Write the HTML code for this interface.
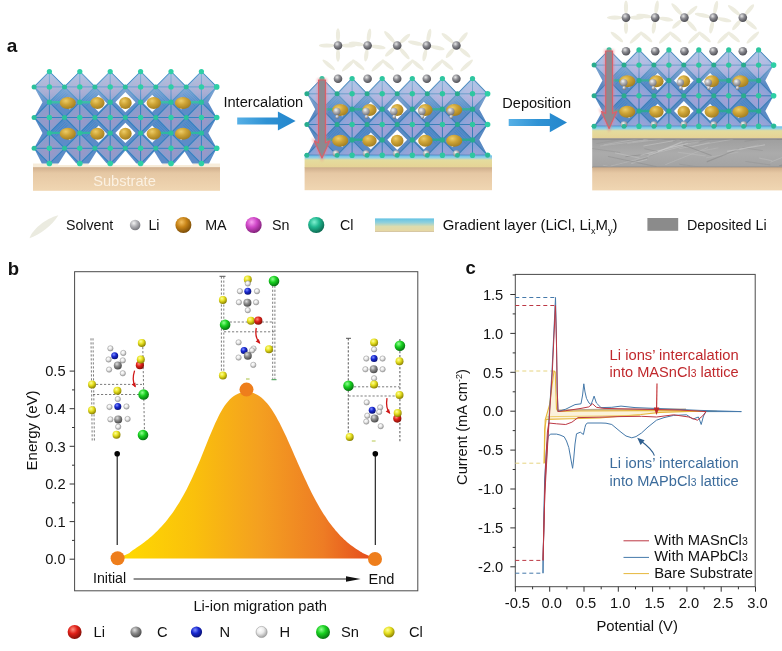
<!DOCTYPE html>
<html><head><meta charset="utf-8"><title>Figure</title>
<style>html,body{margin:0;padding:0;background:#fff}svg{display:block;font-family:"Liberation Sans", Arial, sans-serif}</style></head>
<body><svg width="782" height="651" viewBox="0 0 782 651">
<defs>
<radialGradient id="gY" cx="0.38" cy="0.32" r="0.7"><stop offset="0" stop-color="#ffff9a"/><stop offset="0.45" stop-color="#e6e020"/><stop offset="1" stop-color="#8a8000"/></radialGradient>
<radialGradient id="gG" cx="0.38" cy="0.32" r="0.7"><stop offset="0" stop-color="#90ff90"/><stop offset="0.45" stop-color="#18d020"/><stop offset="1" stop-color="#067010"/></radialGradient>
<radialGradient id="gR" cx="0.38" cy="0.32" r="0.7"><stop offset="0" stop-color="#ff9080"/><stop offset="0.45" stop-color="#e02018"/><stop offset="1" stop-color="#801008"/></radialGradient>
<radialGradient id="gB" cx="0.38" cy="0.32" r="0.7"><stop offset="0" stop-color="#8090ff"/><stop offset="0.45" stop-color="#1828d0"/><stop offset="1" stop-color="#081070"/></radialGradient>
<radialGradient id="gC" cx="0.38" cy="0.32" r="0.7"><stop offset="0" stop-color="#e0e0e0"/><stop offset="0.45" stop-color="#8c8c8c"/><stop offset="1" stop-color="#484848"/></radialGradient>
<radialGradient id="gH" cx="0.38" cy="0.32" r="0.7"><stop offset="0" stop-color="#ffffff"/><stop offset="0.45" stop-color="#ececec"/><stop offset="1" stop-color="#a0a0a0"/></radialGradient>
<radialGradient id="gLi" cx="0.38" cy="0.32" r="0.7"><stop offset="0" stop-color="#e8e8e8"/><stop offset="0.45" stop-color="#8a8a90"/><stop offset="1" stop-color="#4c4c52"/></radialGradient>
<radialGradient id="gLi2" cx="0.38" cy="0.32" r="0.7"><stop offset="0" stop-color="#f4f4f4"/><stop offset="0.45" stop-color="#b4b4b8"/><stop offset="1" stop-color="#74747a"/></radialGradient>
<radialGradient id="gMA" cx="0.38" cy="0.32" r="0.7"><stop offset="0" stop-color="#f4c060"/><stop offset="0.45" stop-color="#c88418"/><stop offset="1" stop-color="#7a4c08"/></radialGradient>
<radialGradient id="gSn" cx="0.38" cy="0.32" r="0.7"><stop offset="0" stop-color="#f8a0f0"/><stop offset="0.45" stop-color="#d048c8"/><stop offset="1" stop-color="#802078"/></radialGradient>
<radialGradient id="gCl" cx="0.38" cy="0.32" r="0.7"><stop offset="0" stop-color="#80f0d0"/><stop offset="0.45" stop-color="#20b890"/><stop offset="1" stop-color="#0c6850"/></radialGradient>
<radialGradient id="gGold" cx="0.38" cy="0.32" r="0.7"><stop offset="0" stop-color="#eccc68"/><stop offset="0.45" stop-color="#cea436"/><stop offset="1" stop-color="#a27e22"/></radialGradient>
<radialGradient id="gTeal" cx="0.38" cy="0.32" r="0.7"><stop offset="0" stop-color="#60e8c0"/><stop offset="0.45" stop-color="#2cc8a0"/><stop offset="1" stop-color="#1a9880"/></radialGradient>
<linearGradient id="octa" x1="0" y1="0" x2="0" y2="1"><stop offset="0" stop-color="#86a8de"/><stop offset="0.55" stop-color="#9c9cd6"/><stop offset="1" stop-color="#7f9bd8"/></linearGradient>
<radialGradient id="octaR" cx="0.5" cy="0.55" r="0.6"><stop offset="0" stop-color="#a096c6"/><stop offset="0.5" stop-color="#8c9ccb"/><stop offset="1" stop-color="#7aa2d6"/></radialGradient>
<radialGradient id="octaR2" cx="0.5" cy="0.6" r="0.6"><stop offset="0" stop-color="#aa9ed4"/><stop offset="0.5" stop-color="#92a4d8"/><stop offset="1" stop-color="#74a0d8"/></radialGradient>
<linearGradient id="subs" x1="0" y1="0" x2="0" y2="1"><stop offset="0" stop-color="#cfae8c"/><stop offset="0.25" stop-color="#e6c8a4"/><stop offset="1" stop-color="#f0d6b2"/></linearGradient>
<linearGradient id="gradlayer" x1="0" y1="0" x2="0" y2="1"><stop offset="0" stop-color="#66bcea"/><stop offset="0.2" stop-color="#98d2e2"/><stop offset="0.36" stop-color="#e4dc9e"/><stop offset="0.9" stop-color="#e6d496"/><stop offset="1" stop-color="#cfb68e"/></linearGradient>
<linearGradient id="gradbar" x1="0" y1="0" x2="0" y2="1"><stop offset="0" stop-color="#62c2e4"/><stop offset="0.3" stop-color="#8fd0dc"/><stop offset="0.6" stop-color="#dcdcae"/><stop offset="0.9" stop-color="#e6d8a4"/><stop offset="1" stop-color="#cbb894"/></linearGradient>
<linearGradient id="lidep" x1="0" y1="0" x2="0" y2="1"><stop offset="0" stop-color="#7e7e7e"/><stop offset="0.07" stop-color="#a0a0a0"/><stop offset="0.5" stop-color="#ababab"/><stop offset="0.93" stop-color="#a4a4a4"/><stop offset="1" stop-color="#7c7c7c"/></linearGradient>
<linearGradient id="barrow" x1="0" y1="0" x2="1" y2="0"><stop offset="0" stop-color="#56b0e6"/><stop offset="0.5" stop-color="#2f92d4"/><stop offset="1" stop-color="#2486cc"/></linearGradient>
<clipPath id="c1"><rect x="30.15" y="67.60000000000001" width="190.5" height="99.00000000000001"/></clipPath>
<linearGradient id="c1lt" gradientUnits="userSpaceOnUse" x1="0" y1="71.6" x2="0" y2="106.8"><stop offset="0" stop-color="#fff" stop-opacity="0.40"/><stop offset="0.6" stop-color="#fff" stop-opacity="0.20"/><stop offset="1" stop-color="#fff" stop-opacity="0"/></linearGradient>
<radialGradient id="petal" cx="0.5" cy="0.5" r="0.6"><stop offset="0" stop-color="#f3f1e2"/><stop offset="1" stop-color="#e6e4d0"/></radialGradient>
<filter id="blur1" x="-50%" y="-10%" width="200%" height="120%"><feGaussianBlur stdDeviation="1.2"/></filter>
<clipPath id="c2"><rect x="302.95" y="74.5" width="188.60000000000002" height="81.69999999999999"/></clipPath>
<linearGradient id="c2lt" gradientUnits="userSpaceOnUse" x1="0" y1="78.5" x2="0" y2="113.7"><stop offset="0" stop-color="#fff" stop-opacity="0.40"/><stop offset="0.6" stop-color="#fff" stop-opacity="0.20"/><stop offset="1" stop-color="#fff" stop-opacity="0"/></linearGradient>
<clipPath id="c3"><rect x="590.15" y="45.89999999999999" width="187.4000000000001" height="81.30000000000001"/></clipPath>
<linearGradient id="c3lt" gradientUnits="userSpaceOnUse" x1="0" y1="49.9" x2="0" y2="84.9"><stop offset="0" stop-color="#fff" stop-opacity="0.40"/><stop offset="0.6" stop-color="#fff" stop-opacity="0.20"/><stop offset="1" stop-color="#fff" stop-opacity="0"/></linearGradient>
<clipPath id="clipLi"><rect x="592.2" y="139.5" width="190" height="27"/></clipPath>
<linearGradient id="peak" gradientUnits="userSpaceOnUse" x1="117" y1="0" x2="375" y2="0"><stop offset="0" stop-color="#ffdc00"/><stop offset="0.3" stop-color="#fac00c"/><stop offset="0.55" stop-color="#f4a020"/><stop offset="0.8" stop-color="#ee7c24"/><stop offset="1" stop-color="#e4481c"/></linearGradient>
</defs>
<rect width="782" height="651" fill="#fff"/>
<rect x="33" y="163.5" width="187" height="5" fill="#f6ead6" opacity="0.9"/>
<g clip-path="url(#c1)">
<polygon points="34.1,86.9 34.1,86.9 49.4,71.6 64.7,86.9 64.5,86.9 79.8,71.6 95.0,86.9 94.9,86.9 110.2,71.6 125.4,86.9 125.3,86.9 140.6,71.6 155.8,86.9 155.8,86.9 171.0,71.6 186.2,86.9 186.2,86.9 201.4,71.6 216.7,86.9 216.7,86.9 208.3,102.2 216.7,117.5 216.7,117.5 208.3,132.9 216.7,148.3 209.0,163.6 41.8,163.6 34.1,148.3 42.5,132.9 34.1,117.5 34.1,117.5 42.5,102.2 34.1,86.9" fill="#5c8cc8"/>
<polygon points="63.5,103.4 69.6,97.3 75.7,103.4 69.6,109.5" fill="#fff" opacity="0.95"/>
<line x1="51.7" y1="102.1" x2="63.9" y2="89.9" stroke="#3585cc" stroke-width="0.7"/>
<line x1="53.0" y1="103.5" x2="65.2" y2="91.2" stroke="#3585cc" stroke-width="0.7"/>
<line x1="54.4" y1="104.8" x2="66.6" y2="92.6" stroke="#3585cc" stroke-width="0.7"/>
<line x1="55.7" y1="106.1" x2="67.9" y2="93.9" stroke="#3585cc" stroke-width="0.7"/>
<polygon points="90.1,103.4 98.6,94.8 107.1,103.4 98.6,112.0" fill="#fff" opacity="0.95"/>
<line x1="82.1" y1="102.1" x2="94.3" y2="89.9" stroke="#3585cc" stroke-width="0.7"/>
<line x1="83.4" y1="103.5" x2="95.6" y2="91.2" stroke="#3585cc" stroke-width="0.7"/>
<line x1="84.8" y1="104.8" x2="97.0" y2="92.6" stroke="#3585cc" stroke-width="0.7"/>
<line x1="86.1" y1="106.1" x2="98.3" y2="93.9" stroke="#3585cc" stroke-width="0.7"/>
<polygon points="115.3,102.2 125.4,92.1 135.5,102.2 125.4,112.3" fill="#fff"/>
<polygon points="143.7,103.4 152.2,94.8 160.7,103.4 152.2,112.0" fill="#fff" opacity="0.95"/>
<line x1="168.7" y1="102.1" x2="156.5" y2="89.9" stroke="#3585cc" stroke-width="0.7"/>
<line x1="167.4" y1="103.5" x2="155.2" y2="91.2" stroke="#3585cc" stroke-width="0.7"/>
<line x1="166.0" y1="104.8" x2="153.8" y2="92.6" stroke="#3585cc" stroke-width="0.7"/>
<line x1="164.7" y1="106.1" x2="152.5" y2="93.9" stroke="#3585cc" stroke-width="0.7"/>
<polygon points="175.1,103.4 181.2,97.3 187.3,103.4 181.2,109.5" fill="#fff" opacity="0.95"/>
<line x1="199.1" y1="102.1" x2="186.9" y2="89.9" stroke="#3585cc" stroke-width="0.7"/>
<line x1="197.8" y1="103.5" x2="185.6" y2="91.2" stroke="#3585cc" stroke-width="0.7"/>
<line x1="196.4" y1="104.8" x2="184.2" y2="92.6" stroke="#3585cc" stroke-width="0.7"/>
<line x1="195.1" y1="106.1" x2="182.9" y2="93.9" stroke="#3585cc" stroke-width="0.7"/>
<polygon points="63.5,134.1 69.6,128.0 75.7,134.1 69.6,140.2" fill="#fff" opacity="0.95"/>
<line x1="51.7" y1="132.8" x2="63.9" y2="120.6" stroke="#3585cc" stroke-width="0.7"/>
<line x1="53.0" y1="134.2" x2="65.2" y2="121.9" stroke="#3585cc" stroke-width="0.7"/>
<line x1="54.4" y1="135.5" x2="66.6" y2="123.3" stroke="#3585cc" stroke-width="0.7"/>
<line x1="55.7" y1="136.8" x2="67.9" y2="124.6" stroke="#3585cc" stroke-width="0.7"/>
<polygon points="90.1,134.1 98.6,125.5 107.1,134.1 98.6,142.7" fill="#fff" opacity="0.95"/>
<line x1="82.1" y1="132.8" x2="94.3" y2="120.6" stroke="#3585cc" stroke-width="0.7"/>
<line x1="83.4" y1="134.2" x2="95.6" y2="121.9" stroke="#3585cc" stroke-width="0.7"/>
<line x1="84.8" y1="135.5" x2="97.0" y2="123.3" stroke="#3585cc" stroke-width="0.7"/>
<line x1="86.1" y1="136.8" x2="98.3" y2="124.6" stroke="#3585cc" stroke-width="0.7"/>
<polygon points="115.3,132.9 125.4,122.8 135.5,132.9 125.4,143.0" fill="#fff"/>
<polygon points="143.7,134.1 152.2,125.5 160.7,134.1 152.2,142.7" fill="#fff" opacity="0.95"/>
<line x1="168.7" y1="132.8" x2="156.5" y2="120.6" stroke="#3585cc" stroke-width="0.7"/>
<line x1="167.4" y1="134.2" x2="155.2" y2="121.9" stroke="#3585cc" stroke-width="0.7"/>
<line x1="166.0" y1="135.5" x2="153.8" y2="123.3" stroke="#3585cc" stroke-width="0.7"/>
<line x1="164.7" y1="136.8" x2="152.5" y2="124.6" stroke="#3585cc" stroke-width="0.7"/>
<polygon points="175.1,134.1 181.2,128.0 187.3,134.1 181.2,140.2" fill="#fff" opacity="0.95"/>
<line x1="199.1" y1="132.8" x2="186.9" y2="120.6" stroke="#3585cc" stroke-width="0.7"/>
<line x1="197.8" y1="134.2" x2="185.6" y2="121.9" stroke="#3585cc" stroke-width="0.7"/>
<line x1="196.4" y1="135.5" x2="184.2" y2="123.3" stroke="#3585cc" stroke-width="0.7"/>
<line x1="195.1" y1="136.8" x2="182.9" y2="124.6" stroke="#3585cc" stroke-width="0.7"/>
<line x1="49.3" y1="102.2" x2="60.8" y2="102.2" stroke="#2bc09c" stroke-width="2.4" stroke-linecap="round" opacity="0.85"/>
<line x1="79.8" y1="102.2" x2="91.2" y2="102.2" stroke="#2bc09c" stroke-width="2.4" stroke-linecap="round" opacity="0.85"/>
<line x1="171.1" y1="102.2" x2="159.6" y2="102.2" stroke="#2bc09c" stroke-width="2.4" stroke-linecap="round" opacity="0.85"/>
<line x1="201.4" y1="102.2" x2="190.0" y2="102.2" stroke="#2bc09c" stroke-width="2.4" stroke-linecap="round" opacity="0.85"/>
<line x1="49.3" y1="132.9" x2="60.8" y2="132.9" stroke="#2bc09c" stroke-width="2.4" stroke-linecap="round" opacity="0.85"/>
<line x1="79.8" y1="132.9" x2="91.2" y2="132.9" stroke="#2bc09c" stroke-width="2.4" stroke-linecap="round" opacity="0.85"/>
<line x1="171.1" y1="132.9" x2="159.6" y2="132.9" stroke="#2bc09c" stroke-width="2.4" stroke-linecap="round" opacity="0.85"/>
<line x1="201.4" y1="132.9" x2="190.0" y2="132.9" stroke="#2bc09c" stroke-width="2.4" stroke-linecap="round" opacity="0.85"/>
<polygon points="66.1,151.4 77.6,165.1 57.7,165.1" fill="#fff"/>
<polygon points="96.5,151.4 108.0,165.1 88.1,165.1" fill="#fff"/>
<polygon points="125.4,150.6 113.2,165.1 137.6,165.1" fill="#fff"/>
<polygon points="154.3,151.4 142.8,165.1 162.7,165.1" fill="#fff"/>
<polygon points="184.7,151.4 173.2,165.1 193.1,165.1" fill="#fff"/>
<polygon points="34.1,86.9 49.4,71.6 64.7,86.9 49.4,102.2" fill="url(#octaR)" stroke="#3381c2" stroke-width="1.1" stroke-linejoin="round"/>
<path d="M34.1,86.9H64.7M49.4,71.6V102.2" stroke="#3381c2" stroke-width="1.0"/>
<polygon points="64.5,86.9 79.8,71.6 95.0,86.9 79.8,102.2" fill="url(#octaR)" stroke="#3381c2" stroke-width="1.1" stroke-linejoin="round"/>
<path d="M64.5,86.9H95.0M79.8,71.6V102.2" stroke="#3381c2" stroke-width="1.0"/>
<polygon points="94.9,86.9 110.2,71.6 125.4,86.9 110.2,102.2" fill="url(#octaR)" stroke="#3381c2" stroke-width="1.1" stroke-linejoin="round"/>
<path d="M94.9,86.9H125.4M110.2,71.6V102.2" stroke="#3381c2" stroke-width="1.0"/>
<polygon points="125.3,86.9 140.6,71.6 155.8,86.9 140.6,102.2" fill="url(#octaR)" stroke="#3381c2" stroke-width="1.1" stroke-linejoin="round"/>
<path d="M125.3,86.9H155.8M140.6,71.6V102.2" stroke="#3381c2" stroke-width="1.0"/>
<polygon points="155.8,86.9 171.0,71.6 186.2,86.9 171.0,102.2" fill="url(#octaR)" stroke="#3381c2" stroke-width="1.1" stroke-linejoin="round"/>
<path d="M155.8,86.9H186.2M171.0,71.6V102.2" stroke="#3381c2" stroke-width="1.0"/>
<polygon points="186.2,86.9 201.4,71.6 216.7,86.9 201.4,102.2" fill="url(#octaR)" stroke="#3381c2" stroke-width="1.1" stroke-linejoin="round"/>
<path d="M186.2,86.9H216.7M201.4,71.6V102.2" stroke="#3381c2" stroke-width="1.0"/>
<polygon points="34.1,117.5 49.4,102.2 64.7,117.5 49.4,132.8" fill="url(#octaR)" stroke="#3381c2" stroke-width="1.1" stroke-linejoin="round"/>
<path d="M34.1,117.5H64.7M49.4,102.2V132.8" stroke="#3381c2" stroke-width="1.0"/>
<polygon points="64.5,117.5 79.8,102.2 95.0,117.5 79.8,132.8" fill="url(#octaR)" stroke="#3381c2" stroke-width="1.1" stroke-linejoin="round"/>
<path d="M64.5,117.5H95.0M79.8,102.2V132.8" stroke="#3381c2" stroke-width="1.0"/>
<polygon points="94.9,117.5 110.2,102.2 125.4,117.5 110.2,132.8" fill="url(#octaR)" stroke="#3381c2" stroke-width="1.1" stroke-linejoin="round"/>
<path d="M94.9,117.5H125.4M110.2,102.2V132.8" stroke="#3381c2" stroke-width="1.0"/>
<polygon points="125.3,117.5 140.6,102.2 155.8,117.5 140.6,132.8" fill="url(#octaR)" stroke="#3381c2" stroke-width="1.1" stroke-linejoin="round"/>
<path d="M125.3,117.5H155.8M140.6,102.2V132.8" stroke="#3381c2" stroke-width="1.0"/>
<polygon points="155.8,117.5 171.0,102.2 186.2,117.5 171.0,132.8" fill="url(#octaR)" stroke="#3381c2" stroke-width="1.1" stroke-linejoin="round"/>
<path d="M155.8,117.5H186.2M171.0,102.2V132.8" stroke="#3381c2" stroke-width="1.0"/>
<polygon points="186.2,117.5 201.4,102.2 216.7,117.5 201.4,132.8" fill="url(#octaR)" stroke="#3381c2" stroke-width="1.1" stroke-linejoin="round"/>
<path d="M186.2,117.5H216.7M201.4,102.2V132.8" stroke="#3381c2" stroke-width="1.0"/>
<polygon points="34.1,148.3 49.4,133.0 64.7,148.3 49.4,163.6" fill="url(#octaR)" stroke="#3381c2" stroke-width="1.1" stroke-linejoin="round"/>
<path d="M34.1,148.3H64.7M49.4,133.0V163.6" stroke="#3381c2" stroke-width="1.0"/>
<polygon points="64.5,148.3 79.8,133.0 95.0,148.3 79.8,163.6" fill="url(#octaR)" stroke="#3381c2" stroke-width="1.1" stroke-linejoin="round"/>
<path d="M64.5,148.3H95.0M79.8,133.0V163.6" stroke="#3381c2" stroke-width="1.0"/>
<polygon points="94.9,148.3 110.2,133.0 125.4,148.3 110.2,163.6" fill="url(#octaR)" stroke="#3381c2" stroke-width="1.1" stroke-linejoin="round"/>
<path d="M94.9,148.3H125.4M110.2,133.0V163.6" stroke="#3381c2" stroke-width="1.0"/>
<polygon points="125.3,148.3 140.6,133.0 155.8,148.3 140.6,163.6" fill="url(#octaR)" stroke="#3381c2" stroke-width="1.1" stroke-linejoin="round"/>
<path d="M125.3,148.3H155.8M140.6,133.0V163.6" stroke="#3381c2" stroke-width="1.0"/>
<polygon points="155.8,148.3 171.0,133.0 186.2,148.3 171.0,163.6" fill="url(#octaR)" stroke="#3381c2" stroke-width="1.1" stroke-linejoin="round"/>
<path d="M155.8,148.3H186.2M171.0,133.0V163.6" stroke="#3381c2" stroke-width="1.0"/>
<polygon points="186.2,148.3 201.4,133.0 216.7,148.3 201.4,163.6" fill="url(#octaR)" stroke="#3381c2" stroke-width="1.1" stroke-linejoin="round"/>
<path d="M186.2,148.3H216.7M201.4,133.0V163.6" stroke="#3381c2" stroke-width="1.0"/>
<polygon points="34.1,86.9 49.4,71.6 64.7,86.9 64.5,86.9 79.8,71.6 95.0,86.9 94.9,86.9 110.2,71.6 125.4,86.9 125.3,86.9 140.6,71.6 155.8,86.9 155.8,86.9 171.0,71.6 186.2,86.9 186.2,86.9 201.4,71.6 216.7,86.9 216.7,106.8 34.1,106.8" fill="url(#c1lt)"/>
<ellipse cx="67.8" cy="103.0" rx="8.1" ry="6.0" fill="url(#gGold)"/>
<ellipse cx="97.4" cy="103.0" rx="7.2" ry="6.0" fill="url(#gGold)"/>
<ellipse cx="125.4" cy="103.0" rx="6.3" ry="6.0" fill="url(#gGold)"/>
<ellipse cx="153.8" cy="103.0" rx="7.2" ry="6.0" fill="url(#gGold)"/>
<ellipse cx="183.0" cy="103.0" rx="8.1" ry="6.0" fill="url(#gGold)"/>
<ellipse cx="67.8" cy="133.7" rx="8.1" ry="6.0" fill="url(#gGold)"/>
<ellipse cx="97.4" cy="133.7" rx="7.2" ry="6.0" fill="url(#gGold)"/>
<ellipse cx="125.4" cy="133.7" rx="6.3" ry="6.0" fill="url(#gGold)"/>
<ellipse cx="153.8" cy="133.7" rx="7.2" ry="6.0" fill="url(#gGold)"/>
<ellipse cx="183.0" cy="133.7" rx="8.1" ry="6.0" fill="url(#gGold)"/>
<circle cx="49.4" cy="86.9" r="2.7" fill="#2ecfa6"/>
<circle cx="34.1" cy="86.9" r="2.5" fill="#2bc09c"/>
<circle cx="49.4" cy="71.6" r="2.6" fill="#2ecfa6"/>
<circle cx="79.8" cy="86.9" r="2.7" fill="#2ecfa6"/>
<circle cx="64.5" cy="86.9" r="2.5" fill="#2bc09c"/>
<circle cx="79.8" cy="71.6" r="2.6" fill="#2ecfa6"/>
<circle cx="110.2" cy="86.9" r="2.7" fill="#2ecfa6"/>
<circle cx="94.9" cy="86.9" r="2.5" fill="#2bc09c"/>
<circle cx="110.2" cy="71.6" r="2.6" fill="#2ecfa6"/>
<circle cx="140.6" cy="86.9" r="2.7" fill="#2ecfa6"/>
<circle cx="125.3" cy="86.9" r="2.5" fill="#2bc09c"/>
<circle cx="140.6" cy="71.6" r="2.6" fill="#2ecfa6"/>
<circle cx="171.0" cy="86.9" r="2.7" fill="#2ecfa6"/>
<circle cx="155.8" cy="86.9" r="2.5" fill="#2bc09c"/>
<circle cx="171.0" cy="71.6" r="2.6" fill="#2ecfa6"/>
<circle cx="201.4" cy="86.9" r="2.7" fill="#2ecfa6"/>
<circle cx="186.2" cy="86.9" r="2.5" fill="#2bc09c"/>
<circle cx="201.4" cy="71.6" r="2.6" fill="#2ecfa6"/>
<circle cx="216.7" cy="86.9" r="2.8" fill="#2ecfa6"/>
<circle cx="49.4" cy="117.5" r="2.7" fill="#2ecfa6"/>
<circle cx="34.1" cy="117.5" r="2.5" fill="#2bc09c"/>
<circle cx="49.4" cy="102.2" r="2.6" fill="#2bc09c"/>
<circle cx="79.8" cy="117.5" r="2.7" fill="#2ecfa6"/>
<circle cx="64.5" cy="117.5" r="2.5" fill="#2bc09c"/>
<circle cx="79.8" cy="102.2" r="2.6" fill="#2bc09c"/>
<circle cx="110.2" cy="117.5" r="2.7" fill="#2ecfa6"/>
<circle cx="94.9" cy="117.5" r="2.5" fill="#2bc09c"/>
<circle cx="110.2" cy="102.2" r="2.6" fill="#2bc09c"/>
<circle cx="140.6" cy="117.5" r="2.7" fill="#2ecfa6"/>
<circle cx="125.3" cy="117.5" r="2.5" fill="#2bc09c"/>
<circle cx="140.6" cy="102.2" r="2.6" fill="#2bc09c"/>
<circle cx="171.0" cy="117.5" r="2.7" fill="#2ecfa6"/>
<circle cx="155.8" cy="117.5" r="2.5" fill="#2bc09c"/>
<circle cx="171.0" cy="102.2" r="2.6" fill="#2bc09c"/>
<circle cx="201.4" cy="117.5" r="2.7" fill="#2ecfa6"/>
<circle cx="186.2" cy="117.5" r="2.5" fill="#2bc09c"/>
<circle cx="201.4" cy="102.2" r="2.6" fill="#2bc09c"/>
<circle cx="216.7" cy="117.5" r="2.8" fill="#2ecfa6"/>
<circle cx="49.4" cy="148.3" r="2.7" fill="#2ecfa6"/>
<circle cx="34.1" cy="148.3" r="2.5" fill="#2bc09c"/>
<circle cx="49.4" cy="133.0" r="2.6" fill="#2bc09c"/>
<circle cx="79.8" cy="148.3" r="2.7" fill="#2ecfa6"/>
<circle cx="64.5" cy="148.3" r="2.5" fill="#2bc09c"/>
<circle cx="79.8" cy="133.0" r="2.6" fill="#2bc09c"/>
<circle cx="110.2" cy="148.3" r="2.7" fill="#2ecfa6"/>
<circle cx="94.9" cy="148.3" r="2.5" fill="#2bc09c"/>
<circle cx="110.2" cy="133.0" r="2.6" fill="#2bc09c"/>
<circle cx="140.6" cy="148.3" r="2.7" fill="#2ecfa6"/>
<circle cx="125.3" cy="148.3" r="2.5" fill="#2bc09c"/>
<circle cx="140.6" cy="133.0" r="2.6" fill="#2bc09c"/>
<circle cx="171.0" cy="148.3" r="2.7" fill="#2ecfa6"/>
<circle cx="155.8" cy="148.3" r="2.5" fill="#2bc09c"/>
<circle cx="171.0" cy="133.0" r="2.6" fill="#2bc09c"/>
<circle cx="201.4" cy="148.3" r="2.7" fill="#2ecfa6"/>
<circle cx="186.2" cy="148.3" r="2.5" fill="#2bc09c"/>
<circle cx="201.4" cy="133.0" r="2.6" fill="#2bc09c"/>
<circle cx="216.7" cy="148.3" r="2.8" fill="#2ecfa6"/>
<circle cx="49.4" cy="163.6" r="2.8" fill="#2ecfa6"/>
<circle cx="79.8" cy="163.6" r="2.8" fill="#2ecfa6"/>
<circle cx="110.2" cy="163.6" r="2.8" fill="#2ecfa6"/>
<circle cx="140.6" cy="163.6" r="2.8" fill="#2ecfa6"/>
<circle cx="171.0" cy="163.6" r="2.8" fill="#2ecfa6"/>
<circle cx="201.4" cy="163.6" r="2.8" fill="#2ecfa6"/>
</g>
<rect x="33" y="167.2" width="187" height="23.6" fill="url(#subs)"/>
<text x="124.5" y="186.2" font-size="14.6" text-anchor="middle" fill="#fbf1e2" font-weight="normal" textLength="62.7" lengthAdjust="spacingAndGlyphs" >Substrate</text>
<ellipse cx="348.7" cy="45.5" rx="7.5" ry="2.05" fill="#edecdf" transform="rotate(0 348.7 45.5)"/>
<ellipse cx="338.0" cy="55.2" rx="6.5" ry="2.05" fill="#edecdf" transform="rotate(90 338.0 55.2)"/>
<ellipse cx="326.8" cy="45.5" rx="8.0" ry="2.05" fill="#edecdf" transform="rotate(180 326.8 45.5)"/>
<ellipse cx="338.0" cy="35.3" rx="7.0" ry="2.05" fill="#edecdf" transform="rotate(270 338.0 35.3)"/>
<ellipse cx="378.2" cy="47.0" rx="7.5" ry="2.05" fill="#edecdf" transform="rotate(8 378.2 47.0)"/>
<ellipse cx="366.3" cy="55.1" rx="6.5" ry="2.05" fill="#edecdf" transform="rotate(98 366.3 55.1)"/>
<ellipse cx="356.5" cy="43.9" rx="8.0" ry="2.05" fill="#edecdf" transform="rotate(188 356.5 43.9)"/>
<ellipse cx="369.0" cy="35.4" rx="7.0" ry="2.05" fill="#edecdf" transform="rotate(278 369.0 35.4)"/>
<ellipse cx="404.4" cy="53.5" rx="7.5" ry="2.05" fill="#edecdf" transform="rotate(48 404.4 53.5)"/>
<ellipse cx="390.0" cy="52.0" rx="6.5" ry="2.05" fill="#edecdf" transform="rotate(138 390.0 52.0)"/>
<ellipse cx="389.7" cy="37.2" rx="8.0" ry="2.05" fill="#edecdf" transform="rotate(228 389.7 37.2)"/>
<ellipse cx="404.8" cy="38.7" rx="7.0" ry="2.05" fill="#edecdf" transform="rotate(318 404.8 38.7)"/>
<ellipse cx="437.3" cy="47.7" rx="7.5" ry="2.05" fill="#edecdf" transform="rotate(12 437.3 47.7)"/>
<ellipse cx="424.8" cy="55.0" rx="6.5" ry="2.05" fill="#edecdf" transform="rotate(102 424.8 55.0)"/>
<ellipse cx="415.8" cy="43.2" rx="8.0" ry="2.05" fill="#edecdf" transform="rotate(192 415.8 43.2)"/>
<ellipse cx="428.9" cy="35.5" rx="7.0" ry="2.05" fill="#edecdf" transform="rotate(282 428.9 35.5)"/>
<ellipse cx="464.6" cy="52.4" rx="7.5" ry="2.05" fill="#edecdf" transform="rotate(40 464.6 52.4)"/>
<ellipse cx="450.2" cy="52.9" rx="6.5" ry="2.05" fill="#edecdf" transform="rotate(130 450.2 52.9)"/>
<ellipse cx="447.8" cy="38.3" rx="8.0" ry="2.05" fill="#edecdf" transform="rotate(220 447.8 38.3)"/>
<ellipse cx="463.0" cy="37.7" rx="7.0" ry="2.05" fill="#edecdf" transform="rotate(310 463.0 37.7)"/>
<ellipse cx="328.7" cy="64.9" rx="8.0" ry="1.95" fill="#edecdf" transform="rotate(40 328.7 64.9)"/>
<ellipse cx="348.2" cy="65.5" rx="8.5" ry="1.95" fill="#edecdf" transform="rotate(137 348.2 65.5)"/>
<ellipse cx="358.3" cy="64.9" rx="8.0" ry="1.95" fill="#edecdf" transform="rotate(40 358.3 64.9)"/>
<ellipse cx="377.8" cy="65.5" rx="8.5" ry="1.95" fill="#edecdf" transform="rotate(137 377.8 65.5)"/>
<ellipse cx="387.9" cy="64.9" rx="8.0" ry="1.95" fill="#edecdf" transform="rotate(40 387.9 64.9)"/>
<ellipse cx="407.4" cy="65.5" rx="8.5" ry="1.95" fill="#edecdf" transform="rotate(137 407.4 65.5)"/>
<ellipse cx="417.5" cy="64.9" rx="8.0" ry="1.95" fill="#edecdf" transform="rotate(40 417.5 64.9)"/>
<ellipse cx="437.0" cy="65.5" rx="8.5" ry="1.95" fill="#edecdf" transform="rotate(137 437.0 65.5)"/>
<ellipse cx="447.1" cy="64.9" rx="8.0" ry="1.95" fill="#edecdf" transform="rotate(40 447.1 64.9)"/>
<ellipse cx="466.6" cy="65.5" rx="8.5" ry="1.95" fill="#edecdf" transform="rotate(137 466.6 65.5)"/>
<circle cx="338.0" cy="45.5" r="4.3" fill="url(#gLi)"/>
<circle cx="338.0" cy="78.8" r="4.3" fill="url(#gLi)"/>
<circle cx="367.6" cy="45.5" r="4.3" fill="url(#gLi)"/>
<circle cx="367.6" cy="78.8" r="4.3" fill="url(#gLi)"/>
<circle cx="397.2" cy="45.5" r="4.3" fill="url(#gLi)"/>
<circle cx="397.2" cy="78.8" r="4.3" fill="url(#gLi)"/>
<circle cx="426.8" cy="45.5" r="4.3" fill="url(#gLi)"/>
<circle cx="426.8" cy="78.8" r="4.3" fill="url(#gLi)"/>
<circle cx="456.4" cy="45.5" r="4.3" fill="url(#gLi)"/>
<circle cx="456.4" cy="78.8" r="4.3" fill="url(#gLi)"/>
<g clip-path="url(#c2)">
<polygon points="306.9,93.8 306.9,93.8 322.0,78.5 337.1,93.8 337.1,93.8 352.1,78.5 367.2,93.8 367.1,93.8 382.2,78.5 397.2,93.8 397.2,93.8 412.3,78.5 427.4,93.8 427.3,93.8 442.4,78.5 457.4,93.8 457.4,93.8 472.5,78.5 487.6,93.8 487.6,93.8 479.3,109.2 487.6,124.5 487.6,124.5 479.3,139.8 487.6,155.2 487.6,156.2 306.9,156.2 306.9,155.2 315.2,139.8 306.9,124.5 306.9,124.5 315.2,109.2 306.9,93.8" fill="#5a8ac4"/>
<polygon points="336.0,110.4 342.1,104.2 348.1,110.4 342.1,116.5" fill="#fff" opacity="0.95"/>
<line x1="324.3" y1="109.1" x2="336.4" y2="96.8" stroke="#3585cc" stroke-width="0.7"/>
<line x1="325.7" y1="110.4" x2="337.7" y2="98.2" stroke="#3585cc" stroke-width="0.7"/>
<line x1="327.0" y1="111.7" x2="339.1" y2="99.5" stroke="#3585cc" stroke-width="0.7"/>
<line x1="328.4" y1="113.1" x2="340.4" y2="100.8" stroke="#3585cc" stroke-width="0.7"/>
<polygon points="362.3,110.4 370.8,101.8 379.2,110.4 370.8,118.9" fill="#fff" opacity="0.95"/>
<line x1="354.4" y1="109.1" x2="366.5" y2="96.8" stroke="#3585cc" stroke-width="0.7"/>
<line x1="355.8" y1="110.4" x2="367.8" y2="98.2" stroke="#3585cc" stroke-width="0.7"/>
<line x1="357.1" y1="111.7" x2="369.2" y2="99.5" stroke="#3585cc" stroke-width="0.7"/>
<line x1="358.5" y1="113.1" x2="370.5" y2="100.8" stroke="#3585cc" stroke-width="0.7"/>
<polygon points="387.3,109.15 397.2,99.1 407.2,109.15 397.2,119.2" fill="#fff"/>
<polygon points="415.3,110.4 423.8,101.8 432.2,110.4 423.8,118.9" fill="#fff" opacity="0.95"/>
<line x1="440.1" y1="109.1" x2="428.0" y2="96.8" stroke="#3585cc" stroke-width="0.7"/>
<line x1="438.7" y1="110.4" x2="426.7" y2="98.2" stroke="#3585cc" stroke-width="0.7"/>
<line x1="437.4" y1="111.7" x2="425.3" y2="99.5" stroke="#3585cc" stroke-width="0.7"/>
<line x1="436.0" y1="113.1" x2="424.0" y2="100.8" stroke="#3585cc" stroke-width="0.7"/>
<polygon points="446.4,110.4 452.4,104.2 458.5,110.4 452.4,116.5" fill="#fff" opacity="0.95"/>
<line x1="470.2" y1="109.1" x2="458.1" y2="96.8" stroke="#3585cc" stroke-width="0.7"/>
<line x1="468.8" y1="110.4" x2="456.8" y2="98.2" stroke="#3585cc" stroke-width="0.7"/>
<line x1="467.5" y1="111.7" x2="455.4" y2="99.5" stroke="#3585cc" stroke-width="0.7"/>
<line x1="466.1" y1="113.1" x2="454.1" y2="100.8" stroke="#3585cc" stroke-width="0.7"/>
<polygon points="336.0,141.0 342.1,134.9 348.1,141.0 342.1,147.2" fill="#fff" opacity="0.95"/>
<line x1="324.3" y1="139.8" x2="336.4" y2="127.5" stroke="#3585cc" stroke-width="0.7"/>
<line x1="325.7" y1="141.1" x2="337.7" y2="128.9" stroke="#3585cc" stroke-width="0.7"/>
<line x1="327.0" y1="142.4" x2="339.1" y2="130.2" stroke="#3585cc" stroke-width="0.7"/>
<line x1="328.4" y1="143.8" x2="340.4" y2="131.5" stroke="#3585cc" stroke-width="0.7"/>
<polygon points="362.3,141.0 370.8,132.5 379.2,141.0 370.8,149.6" fill="#fff" opacity="0.95"/>
<line x1="354.4" y1="139.8" x2="366.5" y2="127.5" stroke="#3585cc" stroke-width="0.7"/>
<line x1="355.8" y1="141.1" x2="367.8" y2="128.9" stroke="#3585cc" stroke-width="0.7"/>
<line x1="357.1" y1="142.4" x2="369.2" y2="130.2" stroke="#3585cc" stroke-width="0.7"/>
<line x1="358.5" y1="143.8" x2="370.5" y2="131.5" stroke="#3585cc" stroke-width="0.7"/>
<polygon points="387.3,139.85 397.2,129.8 407.2,139.85 397.2,149.9" fill="#fff"/>
<polygon points="415.3,141.0 423.8,132.5 432.2,141.0 423.8,149.6" fill="#fff" opacity="0.95"/>
<line x1="440.1" y1="139.8" x2="428.0" y2="127.5" stroke="#3585cc" stroke-width="0.7"/>
<line x1="438.7" y1="141.1" x2="426.7" y2="128.9" stroke="#3585cc" stroke-width="0.7"/>
<line x1="437.4" y1="142.4" x2="425.3" y2="130.2" stroke="#3585cc" stroke-width="0.7"/>
<line x1="436.0" y1="143.8" x2="424.0" y2="131.5" stroke="#3585cc" stroke-width="0.7"/>
<polygon points="446.4,141.0 452.4,134.9 458.5,141.0 452.4,147.2" fill="#fff" opacity="0.95"/>
<line x1="470.2" y1="139.8" x2="458.1" y2="127.5" stroke="#3585cc" stroke-width="0.7"/>
<line x1="468.8" y1="141.1" x2="456.8" y2="128.9" stroke="#3585cc" stroke-width="0.7"/>
<line x1="467.5" y1="142.4" x2="455.4" y2="130.2" stroke="#3585cc" stroke-width="0.7"/>
<line x1="466.1" y1="143.8" x2="454.1" y2="131.5" stroke="#3585cc" stroke-width="0.7"/>
<line x1="322.0" y1="109.2" x2="333.3" y2="109.2" stroke="#28ac8e" stroke-width="2.4" stroke-linecap="round" opacity="0.85"/>
<line x1="352.1" y1="109.2" x2="363.4" y2="109.2" stroke="#28ac8e" stroke-width="2.4" stroke-linecap="round" opacity="0.85"/>
<line x1="442.4" y1="109.2" x2="431.1" y2="109.2" stroke="#28ac8e" stroke-width="2.4" stroke-linecap="round" opacity="0.85"/>
<line x1="472.5" y1="109.2" x2="461.2" y2="109.2" stroke="#28ac8e" stroke-width="2.4" stroke-linecap="round" opacity="0.85"/>
<line x1="322.0" y1="139.8" x2="333.3" y2="139.8" stroke="#28ac8e" stroke-width="2.4" stroke-linecap="round" opacity="0.85"/>
<line x1="352.1" y1="139.8" x2="363.4" y2="139.8" stroke="#28ac8e" stroke-width="2.4" stroke-linecap="round" opacity="0.85"/>
<line x1="442.4" y1="139.8" x2="431.1" y2="139.8" stroke="#28ac8e" stroke-width="2.4" stroke-linecap="round" opacity="0.85"/>
<line x1="472.5" y1="139.8" x2="461.2" y2="139.8" stroke="#28ac8e" stroke-width="2.4" stroke-linecap="round" opacity="0.85"/>
<polygon points="306.9,93.8 322.0,78.5 337.1,93.8 322.0,109.1" fill="url(#octaR2)" stroke="#3a7eb8" stroke-width="1.1" stroke-linejoin="round"/>
<path d="M306.9,93.8H337.1M322.0,78.5V109.1" stroke="#3a7eb8" stroke-width="1.0"/>
<polygon points="337.1,93.8 352.1,78.5 367.2,93.8 352.1,109.1" fill="url(#octaR2)" stroke="#3a7eb8" stroke-width="1.1" stroke-linejoin="round"/>
<path d="M337.1,93.8H367.2M352.1,78.5V109.1" stroke="#3a7eb8" stroke-width="1.0"/>
<polygon points="367.1,93.8 382.2,78.5 397.2,93.8 382.2,109.1" fill="url(#octaR2)" stroke="#3a7eb8" stroke-width="1.1" stroke-linejoin="round"/>
<path d="M367.1,93.8H397.2M382.2,78.5V109.1" stroke="#3a7eb8" stroke-width="1.0"/>
<polygon points="397.2,93.8 412.3,78.5 427.4,93.8 412.3,109.1" fill="url(#octaR2)" stroke="#3a7eb8" stroke-width="1.1" stroke-linejoin="round"/>
<path d="M397.2,93.8H427.4M412.3,78.5V109.1" stroke="#3a7eb8" stroke-width="1.0"/>
<polygon points="427.3,93.8 442.4,78.5 457.4,93.8 442.4,109.1" fill="url(#octaR2)" stroke="#3a7eb8" stroke-width="1.1" stroke-linejoin="round"/>
<path d="M427.3,93.8H457.4M442.4,78.5V109.1" stroke="#3a7eb8" stroke-width="1.0"/>
<polygon points="457.4,93.8 472.5,78.5 487.6,93.8 472.5,109.1" fill="url(#octaR2)" stroke="#3a7eb8" stroke-width="1.1" stroke-linejoin="round"/>
<path d="M457.4,93.8H487.6M472.5,78.5V109.1" stroke="#3a7eb8" stroke-width="1.0"/>
<polygon points="306.9,124.5 322.0,109.2 337.1,124.5 322.0,139.8" fill="url(#octaR2)" stroke="#3a7eb8" stroke-width="1.1" stroke-linejoin="round"/>
<path d="M306.9,124.5H337.1M322.0,109.2V139.8" stroke="#3a7eb8" stroke-width="1.0"/>
<polygon points="337.1,124.5 352.1,109.2 367.2,124.5 352.1,139.8" fill="url(#octaR2)" stroke="#3a7eb8" stroke-width="1.1" stroke-linejoin="round"/>
<path d="M337.1,124.5H367.2M352.1,109.2V139.8" stroke="#3a7eb8" stroke-width="1.0"/>
<polygon points="367.1,124.5 382.2,109.2 397.2,124.5 382.2,139.8" fill="url(#octaR2)" stroke="#3a7eb8" stroke-width="1.1" stroke-linejoin="round"/>
<path d="M367.1,124.5H397.2M382.2,109.2V139.8" stroke="#3a7eb8" stroke-width="1.0"/>
<polygon points="397.2,124.5 412.3,109.2 427.4,124.5 412.3,139.8" fill="url(#octaR2)" stroke="#3a7eb8" stroke-width="1.1" stroke-linejoin="round"/>
<path d="M397.2,124.5H427.4M412.3,109.2V139.8" stroke="#3a7eb8" stroke-width="1.0"/>
<polygon points="427.3,124.5 442.4,109.2 457.4,124.5 442.4,139.8" fill="url(#octaR2)" stroke="#3a7eb8" stroke-width="1.1" stroke-linejoin="round"/>
<path d="M427.3,124.5H457.4M442.4,109.2V139.8" stroke="#3a7eb8" stroke-width="1.0"/>
<polygon points="457.4,124.5 472.5,109.2 487.6,124.5 472.5,139.8" fill="url(#octaR2)" stroke="#3a7eb8" stroke-width="1.1" stroke-linejoin="round"/>
<path d="M457.4,124.5H487.6M472.5,109.2V139.8" stroke="#3a7eb8" stroke-width="1.0"/>
<polygon points="306.9,155.2 322.0,139.9 337.1,155.2 322.0,170.5" fill="url(#octaR2)" stroke="#3a7eb8" stroke-width="1.1" stroke-linejoin="round"/>
<path d="M306.9,155.2H337.1M322.0,139.9V170.5" stroke="#3a7eb8" stroke-width="1.0"/>
<polygon points="337.1,155.2 352.1,139.9 367.2,155.2 352.1,170.5" fill="url(#octaR2)" stroke="#3a7eb8" stroke-width="1.1" stroke-linejoin="round"/>
<path d="M337.1,155.2H367.2M352.1,139.9V170.5" stroke="#3a7eb8" stroke-width="1.0"/>
<polygon points="367.1,155.2 382.2,139.9 397.2,155.2 382.2,170.5" fill="url(#octaR2)" stroke="#3a7eb8" stroke-width="1.1" stroke-linejoin="round"/>
<path d="M367.1,155.2H397.2M382.2,139.9V170.5" stroke="#3a7eb8" stroke-width="1.0"/>
<polygon points="397.2,155.2 412.3,139.9 427.4,155.2 412.3,170.5" fill="url(#octaR2)" stroke="#3a7eb8" stroke-width="1.1" stroke-linejoin="round"/>
<path d="M397.2,155.2H427.4M412.3,139.9V170.5" stroke="#3a7eb8" stroke-width="1.0"/>
<polygon points="427.3,155.2 442.4,139.9 457.4,155.2 442.4,170.5" fill="url(#octaR2)" stroke="#3a7eb8" stroke-width="1.1" stroke-linejoin="round"/>
<path d="M427.3,155.2H457.4M442.4,139.9V170.5" stroke="#3a7eb8" stroke-width="1.0"/>
<polygon points="457.4,155.2 472.5,139.9 487.6,155.2 472.5,170.5" fill="url(#octaR2)" stroke="#3a7eb8" stroke-width="1.1" stroke-linejoin="round"/>
<path d="M457.4,155.2H487.6M472.5,139.9V170.5" stroke="#3a7eb8" stroke-width="1.0"/>
<polygon points="306.9,93.8 322.0,78.5 337.1,93.8 337.1,93.8 352.1,78.5 367.2,93.8 367.1,93.8 382.2,78.5 397.2,93.8 397.2,93.8 412.3,78.5 427.4,93.8 427.3,93.8 442.4,78.5 457.4,93.8 457.4,93.8 472.5,78.5 487.6,93.8 487.6,113.7 306.9,113.7" fill="url(#c2lt)"/>
<ellipse cx="340.2" cy="110.0" rx="8.1" ry="6.0" fill="url(#gGold)"/>
<circle cx="336.8" cy="111.4" r="3.7" fill="url(#gLi2)"/>
<circle cx="337.2" cy="116.8" r="1.9" fill="url(#gLi2)"/>
<ellipse cx="369.5" cy="110.0" rx="7.2" ry="6.0" fill="url(#gGold)"/>
<circle cx="366.0" cy="111.4" r="3.7" fill="url(#gLi2)"/>
<circle cx="366.5" cy="116.8" r="1.9" fill="url(#gLi2)"/>
<ellipse cx="397.2" cy="110.0" rx="6.3" ry="6.0" fill="url(#gGold)"/>
<circle cx="393.8" cy="111.4" r="3.7" fill="url(#gLi2)"/>
<circle cx="394.2" cy="116.8" r="1.9" fill="url(#gLi2)"/>
<ellipse cx="425.4" cy="110.0" rx="7.2" ry="6.0" fill="url(#gGold)"/>
<circle cx="421.9" cy="111.4" r="3.7" fill="url(#gLi2)"/>
<circle cx="422.4" cy="116.8" r="1.9" fill="url(#gLi2)"/>
<ellipse cx="454.2" cy="110.0" rx="8.1" ry="6.0" fill="url(#gGold)"/>
<circle cx="450.8" cy="111.4" r="3.7" fill="url(#gLi2)"/>
<circle cx="451.2" cy="116.8" r="1.9" fill="url(#gLi2)"/>
<ellipse cx="340.2" cy="140.7" rx="8.1" ry="6.0" fill="url(#gGold)"/>
<ellipse cx="369.5" cy="140.7" rx="7.2" ry="6.0" fill="url(#gGold)"/>
<ellipse cx="397.2" cy="140.7" rx="6.3" ry="6.0" fill="url(#gGold)"/>
<ellipse cx="425.4" cy="140.7" rx="7.2" ry="6.0" fill="url(#gGold)"/>
<ellipse cx="454.2" cy="140.7" rx="8.1" ry="6.0" fill="url(#gGold)"/>
<circle cx="322.0" cy="93.8" r="2.7" fill="#2fc6a0"/>
<circle cx="306.9" cy="93.8" r="2.5" fill="#28ac8e"/>
<circle cx="322.0" cy="78.5" r="2.6" fill="#2fc6a0"/>
<circle cx="352.1" cy="93.8" r="2.7" fill="#2fc6a0"/>
<circle cx="337.1" cy="93.8" r="2.5" fill="#28ac8e"/>
<circle cx="352.1" cy="78.5" r="2.6" fill="#2fc6a0"/>
<circle cx="382.2" cy="93.8" r="2.7" fill="#2fc6a0"/>
<circle cx="367.1" cy="93.8" r="2.5" fill="#28ac8e"/>
<circle cx="382.2" cy="78.5" r="2.6" fill="#2fc6a0"/>
<circle cx="412.3" cy="93.8" r="2.7" fill="#2fc6a0"/>
<circle cx="397.2" cy="93.8" r="2.5" fill="#28ac8e"/>
<circle cx="412.3" cy="78.5" r="2.6" fill="#2fc6a0"/>
<circle cx="442.4" cy="93.8" r="2.7" fill="#2fc6a0"/>
<circle cx="427.3" cy="93.8" r="2.5" fill="#28ac8e"/>
<circle cx="442.4" cy="78.5" r="2.6" fill="#2fc6a0"/>
<circle cx="472.5" cy="93.8" r="2.7" fill="#2fc6a0"/>
<circle cx="457.4" cy="93.8" r="2.5" fill="#28ac8e"/>
<circle cx="472.5" cy="78.5" r="2.6" fill="#2fc6a0"/>
<circle cx="487.6" cy="93.8" r="2.8" fill="#2ecfa6"/>
<circle cx="322.0" cy="124.5" r="2.7" fill="#2fc6a0"/>
<circle cx="306.9" cy="124.5" r="2.5" fill="#28ac8e"/>
<circle cx="322.0" cy="109.2" r="2.6" fill="#28ac8e"/>
<circle cx="352.1" cy="124.5" r="2.7" fill="#2fc6a0"/>
<circle cx="337.1" cy="124.5" r="2.5" fill="#28ac8e"/>
<circle cx="352.1" cy="109.2" r="2.6" fill="#28ac8e"/>
<circle cx="382.2" cy="124.5" r="2.7" fill="#2fc6a0"/>
<circle cx="367.1" cy="124.5" r="2.5" fill="#28ac8e"/>
<circle cx="382.2" cy="109.2" r="2.6" fill="#28ac8e"/>
<circle cx="412.3" cy="124.5" r="2.7" fill="#2fc6a0"/>
<circle cx="397.2" cy="124.5" r="2.5" fill="#28ac8e"/>
<circle cx="412.3" cy="109.2" r="2.6" fill="#28ac8e"/>
<circle cx="442.4" cy="124.5" r="2.7" fill="#2fc6a0"/>
<circle cx="427.3" cy="124.5" r="2.5" fill="#28ac8e"/>
<circle cx="442.4" cy="109.2" r="2.6" fill="#28ac8e"/>
<circle cx="472.5" cy="124.5" r="2.7" fill="#2fc6a0"/>
<circle cx="457.4" cy="124.5" r="2.5" fill="#28ac8e"/>
<circle cx="472.5" cy="109.2" r="2.6" fill="#28ac8e"/>
<circle cx="487.6" cy="124.5" r="2.8" fill="#2ecfa6"/>
<circle cx="322.0" cy="155.2" r="2.7" fill="#2fc6a0"/>
<circle cx="306.9" cy="155.2" r="2.5" fill="#28ac8e"/>
<circle cx="322.0" cy="139.9" r="2.6" fill="#28ac8e"/>
<circle cx="352.1" cy="155.2" r="2.7" fill="#2fc6a0"/>
<circle cx="337.1" cy="155.2" r="2.5" fill="#28ac8e"/>
<circle cx="352.1" cy="139.9" r="2.6" fill="#28ac8e"/>
<circle cx="382.2" cy="155.2" r="2.7" fill="#2fc6a0"/>
<circle cx="367.1" cy="155.2" r="2.5" fill="#28ac8e"/>
<circle cx="382.2" cy="139.9" r="2.6" fill="#28ac8e"/>
<circle cx="412.3" cy="155.2" r="2.7" fill="#2fc6a0"/>
<circle cx="397.2" cy="155.2" r="2.5" fill="#28ac8e"/>
<circle cx="412.3" cy="139.9" r="2.6" fill="#28ac8e"/>
<circle cx="442.4" cy="155.2" r="2.7" fill="#2fc6a0"/>
<circle cx="427.3" cy="155.2" r="2.5" fill="#28ac8e"/>
<circle cx="442.4" cy="139.9" r="2.6" fill="#28ac8e"/>
<circle cx="472.5" cy="155.2" r="2.7" fill="#2fc6a0"/>
<circle cx="457.4" cy="155.2" r="2.5" fill="#28ac8e"/>
<circle cx="472.5" cy="139.9" r="2.6" fill="#28ac8e"/>
<circle cx="487.6" cy="155.2" r="2.8" fill="#2ecfa6"/>
</g>
<rect x="304.6" y="155.4" width="187.4" height="12.6" fill="url(#gradlayer)"/>
<circle cx="336.0" cy="153.6" r="3.3" fill="url(#gLi2)"/>
<circle cx="366.1" cy="153.6" r="3.3" fill="url(#gLi2)"/>
<circle cx="396.2" cy="153.6" r="3.3" fill="url(#gLi2)"/>
<circle cx="426.3" cy="153.6" r="3.3" fill="url(#gLi2)"/>
<circle cx="456.4" cy="153.6" r="3.3" fill="url(#gLi2)"/>
<circle cx="306.9" cy="155.4" r="2.4" fill="#2bb896"/>
<circle cx="352.1" cy="155.4" r="2.6" fill="#2fc6a0"/>
<circle cx="337.1" cy="155.4" r="2.4" fill="#2bb896"/>
<circle cx="382.2" cy="155.4" r="2.6" fill="#2fc6a0"/>
<circle cx="367.1" cy="155.4" r="2.4" fill="#2bb896"/>
<circle cx="412.3" cy="155.4" r="2.6" fill="#2fc6a0"/>
<circle cx="397.2" cy="155.4" r="2.4" fill="#2bb896"/>
<circle cx="442.4" cy="155.4" r="2.6" fill="#2fc6a0"/>
<circle cx="427.3" cy="155.4" r="2.4" fill="#2bb896"/>
<circle cx="472.5" cy="155.4" r="2.6" fill="#2fc6a0"/>
<circle cx="457.4" cy="155.4" r="2.4" fill="#2bb896"/>
<circle cx="487.6" cy="155.4" r="2.4" fill="#2bb896"/>
<rect x="304.6" y="167.6" width="187.4" height="22.6" fill="url(#subs)"/>
<path d="M318.6,80 H325.4 V143 L329.5,141 L322.0,158 L314.5,141 L318.6,143 Z" fill="none" stroke="#f08088" stroke-width="3" opacity="0.55" filter="url(#blur1)"/>
<path d="M318.6,80 H325.4 V143 L329.5,141 L322.0,158 L314.5,141 L318.6,143 Z" fill="#8b8a90" stroke="#d9606a" stroke-width="1.2" stroke-linejoin="round"/>
<ellipse cx="636.7" cy="17.6" rx="7.5" ry="2.05" fill="#edecdf" transform="rotate(0 636.7 17.6)"/>
<ellipse cx="626.0" cy="27.3" rx="6.5" ry="2.05" fill="#edecdf" transform="rotate(90 626.0 27.3)"/>
<ellipse cx="614.8" cy="17.6" rx="8.0" ry="2.05" fill="#edecdf" transform="rotate(180 614.8 17.6)"/>
<ellipse cx="626.0" cy="7.4" rx="7.0" ry="2.05" fill="#edecdf" transform="rotate(270 626.0 7.4)"/>
<ellipse cx="665.8" cy="19.1" rx="7.5" ry="2.05" fill="#edecdf" transform="rotate(8 665.8 19.1)"/>
<ellipse cx="653.9" cy="27.2" rx="6.5" ry="2.05" fill="#edecdf" transform="rotate(98 653.9 27.2)"/>
<ellipse cx="644.1" cy="16.0" rx="8.0" ry="2.05" fill="#edecdf" transform="rotate(188 644.1 16.0)"/>
<ellipse cx="656.6" cy="7.5" rx="7.0" ry="2.05" fill="#edecdf" transform="rotate(278 656.6 7.5)"/>
<ellipse cx="691.6" cy="25.6" rx="7.5" ry="2.05" fill="#edecdf" transform="rotate(48 691.6 25.6)"/>
<ellipse cx="677.2" cy="24.1" rx="6.5" ry="2.05" fill="#edecdf" transform="rotate(138 677.2 24.1)"/>
<ellipse cx="676.9" cy="9.3" rx="8.0" ry="2.05" fill="#edecdf" transform="rotate(228 676.9 9.3)"/>
<ellipse cx="692.0" cy="10.8" rx="7.0" ry="2.05" fill="#edecdf" transform="rotate(318 692.0 10.8)"/>
<ellipse cx="724.1" cy="19.8" rx="7.5" ry="2.05" fill="#edecdf" transform="rotate(12 724.1 19.8)"/>
<ellipse cx="711.6" cy="27.1" rx="6.5" ry="2.05" fill="#edecdf" transform="rotate(102 711.6 27.1)"/>
<ellipse cx="702.6" cy="15.3" rx="8.0" ry="2.05" fill="#edecdf" transform="rotate(192 702.6 15.3)"/>
<ellipse cx="715.7" cy="7.6" rx="7.0" ry="2.05" fill="#edecdf" transform="rotate(282 715.7 7.6)"/>
<ellipse cx="751.0" cy="24.5" rx="7.5" ry="2.05" fill="#edecdf" transform="rotate(40 751.0 24.5)"/>
<ellipse cx="736.6" cy="25.0" rx="6.5" ry="2.05" fill="#edecdf" transform="rotate(130 736.6 25.0)"/>
<ellipse cx="734.2" cy="10.4" rx="8.0" ry="2.05" fill="#edecdf" transform="rotate(220 734.2 10.4)"/>
<ellipse cx="749.4" cy="9.8" rx="7.0" ry="2.05" fill="#edecdf" transform="rotate(310 749.4 9.8)"/>
<ellipse cx="616.9" cy="37.0" rx="8.0" ry="1.95" fill="#edecdf" transform="rotate(40 616.9 37.0)"/>
<ellipse cx="636.0" cy="37.6" rx="8.5" ry="1.95" fill="#edecdf" transform="rotate(137 636.0 37.6)"/>
<ellipse cx="646.1" cy="37.0" rx="8.0" ry="1.95" fill="#edecdf" transform="rotate(40 646.1 37.0)"/>
<ellipse cx="665.2" cy="37.6" rx="8.5" ry="1.95" fill="#edecdf" transform="rotate(137 665.2 37.6)"/>
<ellipse cx="675.3" cy="37.0" rx="8.0" ry="1.95" fill="#edecdf" transform="rotate(40 675.3 37.0)"/>
<ellipse cx="694.4" cy="37.6" rx="8.5" ry="1.95" fill="#edecdf" transform="rotate(137 694.4 37.6)"/>
<ellipse cx="704.5" cy="37.0" rx="8.0" ry="1.95" fill="#edecdf" transform="rotate(40 704.5 37.0)"/>
<ellipse cx="723.6" cy="37.6" rx="8.5" ry="1.95" fill="#edecdf" transform="rotate(137 723.6 37.6)"/>
<ellipse cx="733.7" cy="37.0" rx="8.0" ry="1.95" fill="#edecdf" transform="rotate(40 733.7 37.0)"/>
<ellipse cx="752.8" cy="37.6" rx="8.5" ry="1.95" fill="#edecdf" transform="rotate(137 752.8 37.6)"/>
<circle cx="626.0" cy="17.6" r="4.3" fill="url(#gLi)"/>
<circle cx="626.0" cy="51.3" r="4.3" fill="url(#gLi)"/>
<circle cx="655.2" cy="17.6" r="4.3" fill="url(#gLi)"/>
<circle cx="655.2" cy="51.3" r="4.3" fill="url(#gLi)"/>
<circle cx="684.4" cy="17.6" r="4.3" fill="url(#gLi)"/>
<circle cx="684.4" cy="51.3" r="4.3" fill="url(#gLi)"/>
<circle cx="713.6" cy="17.6" r="4.3" fill="url(#gLi)"/>
<circle cx="713.6" cy="51.3" r="4.3" fill="url(#gLi)"/>
<circle cx="742.8" cy="17.6" r="4.3" fill="url(#gLi)"/>
<circle cx="742.8" cy="51.3" r="4.3" fill="url(#gLi)"/>
<g clip-path="url(#c3)">
<polygon points="594.1,65.1 594.1,65.1 609.1,49.9 624.1,65.1 624.0,65.1 639.0,49.9 654.0,65.1 653.9,65.1 668.9,49.9 683.9,65.1 683.8,65.1 698.8,49.9 713.8,65.1 713.8,65.1 728.7,49.9 743.7,65.1 743.6,65.1 758.6,49.9 773.6,65.1 773.6,65.1 765.3,80.4 773.6,95.8 773.6,95.8 765.3,111.0 773.6,126.2 773.6,127.2 594.1,127.2 594.1,126.2 602.4,111.0 594.1,95.8 594.1,95.8 602.4,80.4 594.1,65.1" fill="#5a8ac4"/>
<polygon points="623.1,81.6 629.0,75.6 635.0,81.6 629.0,87.7" fill="#fff" opacity="0.95"/>
<line x1="611.4" y1="80.4" x2="623.4" y2="68.2" stroke="#3585cc" stroke-width="0.7"/>
<line x1="612.8" y1="81.7" x2="624.7" y2="69.5" stroke="#3585cc" stroke-width="0.7"/>
<line x1="614.1" y1="83.1" x2="626.1" y2="70.9" stroke="#3585cc" stroke-width="0.7"/>
<line x1="615.5" y1="84.4" x2="627.4" y2="72.2" stroke="#3585cc" stroke-width="0.7"/>
<polygon points="649.2,81.6 657.6,73.1 665.9,81.6 657.6,90.2" fill="#fff" opacity="0.95"/>
<line x1="641.3" y1="80.4" x2="653.3" y2="68.2" stroke="#3585cc" stroke-width="0.7"/>
<line x1="642.7" y1="81.7" x2="654.6" y2="69.5" stroke="#3585cc" stroke-width="0.7"/>
<line x1="644.0" y1="83.1" x2="656.0" y2="70.9" stroke="#3585cc" stroke-width="0.7"/>
<line x1="645.4" y1="84.4" x2="657.3" y2="72.2" stroke="#3585cc" stroke-width="0.7"/>
<polygon points="674.0,80.44999999999999 683.8,70.4 693.7,80.44999999999999 683.8,90.5" fill="#fff"/>
<polygon points="701.8,81.6 710.1,73.1 718.5,81.6 710.1,90.2" fill="#fff" opacity="0.95"/>
<line x1="726.4" y1="80.4" x2="714.4" y2="68.2" stroke="#3585cc" stroke-width="0.7"/>
<line x1="725.0" y1="81.7" x2="713.1" y2="69.5" stroke="#3585cc" stroke-width="0.7"/>
<line x1="723.7" y1="83.1" x2="711.7" y2="70.9" stroke="#3585cc" stroke-width="0.7"/>
<line x1="722.3" y1="84.4" x2="710.4" y2="72.2" stroke="#3585cc" stroke-width="0.7"/>
<polygon points="732.7,81.6 738.7,75.6 744.6,81.6 738.7,87.7" fill="#fff" opacity="0.95"/>
<line x1="756.3" y1="80.4" x2="744.3" y2="68.2" stroke="#3585cc" stroke-width="0.7"/>
<line x1="754.9" y1="81.7" x2="743.0" y2="69.5" stroke="#3585cc" stroke-width="0.7"/>
<line x1="753.6" y1="83.1" x2="741.6" y2="70.9" stroke="#3585cc" stroke-width="0.7"/>
<line x1="752.2" y1="84.4" x2="740.3" y2="72.2" stroke="#3585cc" stroke-width="0.7"/>
<polygon points="623.1,112.2 629.0,106.1 635.0,112.2 629.0,118.3" fill="#fff" opacity="0.95"/>
<line x1="611.4" y1="110.9" x2="623.4" y2="98.8" stroke="#3585cc" stroke-width="0.7"/>
<line x1="612.8" y1="112.3" x2="624.7" y2="100.1" stroke="#3585cc" stroke-width="0.7"/>
<line x1="614.1" y1="113.6" x2="626.1" y2="101.4" stroke="#3585cc" stroke-width="0.7"/>
<line x1="615.5" y1="114.9" x2="627.4" y2="102.8" stroke="#3585cc" stroke-width="0.7"/>
<polygon points="649.2,112.2 657.6,103.7 665.9,112.2 657.6,120.7" fill="#fff" opacity="0.95"/>
<line x1="641.3" y1="110.9" x2="653.3" y2="98.8" stroke="#3585cc" stroke-width="0.7"/>
<line x1="642.7" y1="112.3" x2="654.6" y2="100.1" stroke="#3585cc" stroke-width="0.7"/>
<line x1="644.0" y1="113.6" x2="656.0" y2="101.4" stroke="#3585cc" stroke-width="0.7"/>
<line x1="645.4" y1="114.9" x2="657.3" y2="102.8" stroke="#3585cc" stroke-width="0.7"/>
<polygon points="674.0,111.0 683.8,101.0 693.7,111.0 683.8,121.0" fill="#fff"/>
<polygon points="701.8,112.2 710.1,103.7 718.5,112.2 710.1,120.7" fill="#fff" opacity="0.95"/>
<line x1="726.4" y1="110.9" x2="714.4" y2="98.8" stroke="#3585cc" stroke-width="0.7"/>
<line x1="725.0" y1="112.3" x2="713.1" y2="100.1" stroke="#3585cc" stroke-width="0.7"/>
<line x1="723.7" y1="113.6" x2="711.7" y2="101.4" stroke="#3585cc" stroke-width="0.7"/>
<line x1="722.3" y1="114.9" x2="710.4" y2="102.8" stroke="#3585cc" stroke-width="0.7"/>
<polygon points="732.7,112.2 738.7,106.1 744.6,112.2 738.7,118.3" fill="#fff" opacity="0.95"/>
<line x1="756.3" y1="110.9" x2="744.3" y2="98.8" stroke="#3585cc" stroke-width="0.7"/>
<line x1="754.9" y1="112.3" x2="743.0" y2="100.1" stroke="#3585cc" stroke-width="0.7"/>
<line x1="753.6" y1="113.6" x2="741.6" y2="101.4" stroke="#3585cc" stroke-width="0.7"/>
<line x1="752.2" y1="114.9" x2="740.3" y2="102.8" stroke="#3585cc" stroke-width="0.7"/>
<line x1="609.1" y1="80.4" x2="620.3" y2="80.4" stroke="#28ac8e" stroke-width="2.4" stroke-linecap="round" opacity="0.85"/>
<line x1="639.0" y1="80.4" x2="650.2" y2="80.4" stroke="#28ac8e" stroke-width="2.4" stroke-linecap="round" opacity="0.85"/>
<line x1="728.7" y1="80.4" x2="717.5" y2="80.4" stroke="#28ac8e" stroke-width="2.4" stroke-linecap="round" opacity="0.85"/>
<line x1="758.6" y1="80.4" x2="747.4" y2="80.4" stroke="#28ac8e" stroke-width="2.4" stroke-linecap="round" opacity="0.85"/>
<line x1="609.1" y1="111.0" x2="620.3" y2="111.0" stroke="#28ac8e" stroke-width="2.4" stroke-linecap="round" opacity="0.85"/>
<line x1="639.0" y1="111.0" x2="650.2" y2="111.0" stroke="#28ac8e" stroke-width="2.4" stroke-linecap="round" opacity="0.85"/>
<line x1="728.7" y1="111.0" x2="717.5" y2="111.0" stroke="#28ac8e" stroke-width="2.4" stroke-linecap="round" opacity="0.85"/>
<line x1="758.6" y1="111.0" x2="747.4" y2="111.0" stroke="#28ac8e" stroke-width="2.4" stroke-linecap="round" opacity="0.85"/>
<polygon points="594.1,65.1 609.1,49.9 624.1,65.1 609.1,80.3" fill="url(#octaR2)" stroke="#3a7eb8" stroke-width="1.1" stroke-linejoin="round"/>
<path d="M594.1,65.1H624.1M609.1,49.9V80.3" stroke="#3a7eb8" stroke-width="1.0"/>
<polygon points="624.0,65.1 639.0,49.9 654.0,65.1 639.0,80.3" fill="url(#octaR2)" stroke="#3a7eb8" stroke-width="1.1" stroke-linejoin="round"/>
<path d="M624.0,65.1H654.0M639.0,49.9V80.3" stroke="#3a7eb8" stroke-width="1.0"/>
<polygon points="653.9,65.1 668.9,49.9 683.9,65.1 668.9,80.3" fill="url(#octaR2)" stroke="#3a7eb8" stroke-width="1.1" stroke-linejoin="round"/>
<path d="M653.9,65.1H683.9M668.9,49.9V80.3" stroke="#3a7eb8" stroke-width="1.0"/>
<polygon points="683.8,65.1 698.8,49.9 713.8,65.1 698.8,80.3" fill="url(#octaR2)" stroke="#3a7eb8" stroke-width="1.1" stroke-linejoin="round"/>
<path d="M683.8,65.1H713.8M698.8,49.9V80.3" stroke="#3a7eb8" stroke-width="1.0"/>
<polygon points="713.8,65.1 728.7,49.9 743.7,65.1 728.7,80.3" fill="url(#octaR2)" stroke="#3a7eb8" stroke-width="1.1" stroke-linejoin="round"/>
<path d="M713.8,65.1H743.7M728.7,49.9V80.3" stroke="#3a7eb8" stroke-width="1.0"/>
<polygon points="743.6,65.1 758.6,49.9 773.6,65.1 758.6,80.3" fill="url(#octaR2)" stroke="#3a7eb8" stroke-width="1.1" stroke-linejoin="round"/>
<path d="M743.6,65.1H773.6M758.6,49.9V80.3" stroke="#3a7eb8" stroke-width="1.0"/>
<polygon points="594.1,95.8 609.1,80.6 624.1,95.8 609.1,111.0" fill="url(#octaR2)" stroke="#3a7eb8" stroke-width="1.1" stroke-linejoin="round"/>
<path d="M594.1,95.8H624.1M609.1,80.6V111.0" stroke="#3a7eb8" stroke-width="1.0"/>
<polygon points="624.0,95.8 639.0,80.6 654.0,95.8 639.0,111.0" fill="url(#octaR2)" stroke="#3a7eb8" stroke-width="1.1" stroke-linejoin="round"/>
<path d="M624.0,95.8H654.0M639.0,80.6V111.0" stroke="#3a7eb8" stroke-width="1.0"/>
<polygon points="653.9,95.8 668.9,80.6 683.9,95.8 668.9,111.0" fill="url(#octaR2)" stroke="#3a7eb8" stroke-width="1.1" stroke-linejoin="round"/>
<path d="M653.9,95.8H683.9M668.9,80.6V111.0" stroke="#3a7eb8" stroke-width="1.0"/>
<polygon points="683.8,95.8 698.8,80.6 713.8,95.8 698.8,111.0" fill="url(#octaR2)" stroke="#3a7eb8" stroke-width="1.1" stroke-linejoin="round"/>
<path d="M683.8,95.8H713.8M698.8,80.6V111.0" stroke="#3a7eb8" stroke-width="1.0"/>
<polygon points="713.8,95.8 728.7,80.6 743.7,95.8 728.7,111.0" fill="url(#octaR2)" stroke="#3a7eb8" stroke-width="1.1" stroke-linejoin="round"/>
<path d="M713.8,95.8H743.7M728.7,80.6V111.0" stroke="#3a7eb8" stroke-width="1.0"/>
<polygon points="743.6,95.8 758.6,80.6 773.6,95.8 758.6,111.0" fill="url(#octaR2)" stroke="#3a7eb8" stroke-width="1.1" stroke-linejoin="round"/>
<path d="M743.6,95.8H773.6M758.6,80.6V111.0" stroke="#3a7eb8" stroke-width="1.0"/>
<polygon points="594.1,126.2 609.1,111.0 624.1,126.2 609.1,141.4" fill="url(#octaR2)" stroke="#3a7eb8" stroke-width="1.1" stroke-linejoin="round"/>
<path d="M594.1,126.2H624.1M609.1,111.0V141.4" stroke="#3a7eb8" stroke-width="1.0"/>
<polygon points="624.0,126.2 639.0,111.0 654.0,126.2 639.0,141.4" fill="url(#octaR2)" stroke="#3a7eb8" stroke-width="1.1" stroke-linejoin="round"/>
<path d="M624.0,126.2H654.0M639.0,111.0V141.4" stroke="#3a7eb8" stroke-width="1.0"/>
<polygon points="653.9,126.2 668.9,111.0 683.9,126.2 668.9,141.4" fill="url(#octaR2)" stroke="#3a7eb8" stroke-width="1.1" stroke-linejoin="round"/>
<path d="M653.9,126.2H683.9M668.9,111.0V141.4" stroke="#3a7eb8" stroke-width="1.0"/>
<polygon points="683.8,126.2 698.8,111.0 713.8,126.2 698.8,141.4" fill="url(#octaR2)" stroke="#3a7eb8" stroke-width="1.1" stroke-linejoin="round"/>
<path d="M683.8,126.2H713.8M698.8,111.0V141.4" stroke="#3a7eb8" stroke-width="1.0"/>
<polygon points="713.8,126.2 728.7,111.0 743.7,126.2 728.7,141.4" fill="url(#octaR2)" stroke="#3a7eb8" stroke-width="1.1" stroke-linejoin="round"/>
<path d="M713.8,126.2H743.7M728.7,111.0V141.4" stroke="#3a7eb8" stroke-width="1.0"/>
<polygon points="743.6,126.2 758.6,111.0 773.6,126.2 758.6,141.4" fill="url(#octaR2)" stroke="#3a7eb8" stroke-width="1.1" stroke-linejoin="round"/>
<path d="M743.6,126.2H773.6M758.6,111.0V141.4" stroke="#3a7eb8" stroke-width="1.0"/>
<polygon points="594.1,65.1 609.1,49.9 624.1,65.1 624.0,65.1 639.0,49.9 654.0,65.1 653.9,65.1 668.9,49.9 683.9,65.1 683.8,65.1 698.8,49.9 713.8,65.1 713.8,65.1 728.7,49.9 743.7,65.1 743.6,65.1 758.6,49.9 773.6,65.1 773.6,84.9 594.1,84.9" fill="url(#c3lt)"/>
<ellipse cx="627.2" cy="81.2" rx="8.1" ry="6.0" fill="url(#gGold)"/>
<circle cx="623.8" cy="82.6" r="3.7" fill="url(#gLi2)"/>
<circle cx="624.2" cy="88.0" r="1.9" fill="url(#gLi2)"/>
<ellipse cx="656.4" cy="81.2" rx="7.2" ry="6.0" fill="url(#gGold)"/>
<circle cx="652.9" cy="82.6" r="3.7" fill="url(#gLi2)"/>
<circle cx="653.4" cy="88.0" r="1.9" fill="url(#gLi2)"/>
<ellipse cx="683.8" cy="81.2" rx="6.3" ry="6.0" fill="url(#gGold)"/>
<circle cx="680.3" cy="82.6" r="3.7" fill="url(#gLi2)"/>
<circle cx="680.8" cy="88.0" r="1.9" fill="url(#gLi2)"/>
<ellipse cx="711.8" cy="81.2" rx="7.2" ry="6.0" fill="url(#gGold)"/>
<circle cx="708.2" cy="82.6" r="3.7" fill="url(#gLi2)"/>
<circle cx="708.8" cy="88.0" r="1.9" fill="url(#gLi2)"/>
<ellipse cx="740.5" cy="81.2" rx="8.1" ry="6.0" fill="url(#gGold)"/>
<circle cx="737.0" cy="82.6" r="3.7" fill="url(#gLi2)"/>
<circle cx="737.5" cy="88.0" r="1.9" fill="url(#gLi2)"/>
<ellipse cx="627.2" cy="111.8" rx="8.1" ry="6.0" fill="url(#gGold)"/>
<ellipse cx="656.4" cy="111.8" rx="7.2" ry="6.0" fill="url(#gGold)"/>
<ellipse cx="683.8" cy="111.8" rx="6.3" ry="6.0" fill="url(#gGold)"/>
<ellipse cx="711.8" cy="111.8" rx="7.2" ry="6.0" fill="url(#gGold)"/>
<ellipse cx="740.5" cy="111.8" rx="8.1" ry="6.0" fill="url(#gGold)"/>
<circle cx="609.1" cy="65.1" r="2.7" fill="#2fc6a0"/>
<circle cx="594.1" cy="65.1" r="2.5" fill="#28ac8e"/>
<circle cx="609.1" cy="49.9" r="2.6" fill="#2fc6a0"/>
<circle cx="639.0" cy="65.1" r="2.7" fill="#2fc6a0"/>
<circle cx="624.0" cy="65.1" r="2.5" fill="#28ac8e"/>
<circle cx="639.0" cy="49.9" r="2.6" fill="#2fc6a0"/>
<circle cx="668.9" cy="65.1" r="2.7" fill="#2fc6a0"/>
<circle cx="653.9" cy="65.1" r="2.5" fill="#28ac8e"/>
<circle cx="668.9" cy="49.9" r="2.6" fill="#2fc6a0"/>
<circle cx="698.8" cy="65.1" r="2.7" fill="#2fc6a0"/>
<circle cx="683.8" cy="65.1" r="2.5" fill="#28ac8e"/>
<circle cx="698.8" cy="49.9" r="2.6" fill="#2fc6a0"/>
<circle cx="728.7" cy="65.1" r="2.7" fill="#2fc6a0"/>
<circle cx="713.8" cy="65.1" r="2.5" fill="#28ac8e"/>
<circle cx="728.7" cy="49.9" r="2.6" fill="#2fc6a0"/>
<circle cx="758.6" cy="65.1" r="2.7" fill="#2fc6a0"/>
<circle cx="743.6" cy="65.1" r="2.5" fill="#28ac8e"/>
<circle cx="758.6" cy="49.9" r="2.6" fill="#2fc6a0"/>
<circle cx="773.6" cy="65.1" r="2.8" fill="#2ecfa6"/>
<circle cx="609.1" cy="95.8" r="2.7" fill="#2fc6a0"/>
<circle cx="594.1" cy="95.8" r="2.5" fill="#28ac8e"/>
<circle cx="609.1" cy="80.6" r="2.6" fill="#28ac8e"/>
<circle cx="639.0" cy="95.8" r="2.7" fill="#2fc6a0"/>
<circle cx="624.0" cy="95.8" r="2.5" fill="#28ac8e"/>
<circle cx="639.0" cy="80.6" r="2.6" fill="#28ac8e"/>
<circle cx="668.9" cy="95.8" r="2.7" fill="#2fc6a0"/>
<circle cx="653.9" cy="95.8" r="2.5" fill="#28ac8e"/>
<circle cx="668.9" cy="80.6" r="2.6" fill="#28ac8e"/>
<circle cx="698.8" cy="95.8" r="2.7" fill="#2fc6a0"/>
<circle cx="683.8" cy="95.8" r="2.5" fill="#28ac8e"/>
<circle cx="698.8" cy="80.6" r="2.6" fill="#28ac8e"/>
<circle cx="728.7" cy="95.8" r="2.7" fill="#2fc6a0"/>
<circle cx="713.8" cy="95.8" r="2.5" fill="#28ac8e"/>
<circle cx="728.7" cy="80.6" r="2.6" fill="#28ac8e"/>
<circle cx="758.6" cy="95.8" r="2.7" fill="#2fc6a0"/>
<circle cx="743.6" cy="95.8" r="2.5" fill="#28ac8e"/>
<circle cx="758.6" cy="80.6" r="2.6" fill="#28ac8e"/>
<circle cx="773.6" cy="95.8" r="2.8" fill="#2ecfa6"/>
<circle cx="609.1" cy="126.2" r="2.7" fill="#2fc6a0"/>
<circle cx="594.1" cy="126.2" r="2.5" fill="#28ac8e"/>
<circle cx="609.1" cy="111.0" r="2.6" fill="#28ac8e"/>
<circle cx="639.0" cy="126.2" r="2.7" fill="#2fc6a0"/>
<circle cx="624.0" cy="126.2" r="2.5" fill="#28ac8e"/>
<circle cx="639.0" cy="111.0" r="2.6" fill="#28ac8e"/>
<circle cx="668.9" cy="126.2" r="2.7" fill="#2fc6a0"/>
<circle cx="653.9" cy="126.2" r="2.5" fill="#28ac8e"/>
<circle cx="668.9" cy="111.0" r="2.6" fill="#28ac8e"/>
<circle cx="698.8" cy="126.2" r="2.7" fill="#2fc6a0"/>
<circle cx="683.8" cy="126.2" r="2.5" fill="#28ac8e"/>
<circle cx="698.8" cy="111.0" r="2.6" fill="#28ac8e"/>
<circle cx="728.7" cy="126.2" r="2.7" fill="#2fc6a0"/>
<circle cx="713.8" cy="126.2" r="2.5" fill="#28ac8e"/>
<circle cx="728.7" cy="111.0" r="2.6" fill="#28ac8e"/>
<circle cx="758.6" cy="126.2" r="2.7" fill="#2fc6a0"/>
<circle cx="743.6" cy="126.2" r="2.5" fill="#28ac8e"/>
<circle cx="758.6" cy="111.0" r="2.6" fill="#28ac8e"/>
<circle cx="773.6" cy="126.2" r="2.8" fill="#2ecfa6"/>
</g>
<rect x="592.2" y="126.3" width="190" height="12.4" fill="url(#gradlayer)"/>
<rect x="592.2" y="138.4" width="190" height="29.6" fill="url(#lidep)"/>
<g clip-path="url(#clipLi)">
<line x1="632.2" y1="141.9" x2="659.6" y2="137.1" stroke="#cccccc" stroke-width="0.55" opacity="0.45"/>
<line x1="665.3" y1="164.7" x2="708.0" y2="147.5" stroke="#cccccc" stroke-width="0.66" opacity="0.45"/>
<line x1="692.3" y1="146.7" x2="709.6" y2="142.4" stroke="#d6d6d6" stroke-width="0.65" opacity="0.45"/>
<line x1="770.5" y1="162.2" x2="813.4" y2="144.9" stroke="#d6d6d6" stroke-width="0.64" opacity="0.45"/>
<line x1="647.0" y1="156.6" x2="686.8" y2="140.5" stroke="#d6d6d6" stroke-width="0.56" opacity="0.45"/>
<line x1="706.2" y1="157.8" x2="738.4" y2="152.1" stroke="#c0c0c0" stroke-width="0.83" opacity="0.45"/>
<line x1="602.9" y1="165.2" x2="650.7" y2="175.3" stroke="#d6d6d6" stroke-width="0.51" opacity="0.45"/>
<line x1="643.4" y1="158.7" x2="665.7" y2="149.7" stroke="#8a8a8a" stroke-width="0.64" opacity="0.45"/>
<line x1="669.7" y1="147.1" x2="699.6" y2="141.8" stroke="#d6d6d6" stroke-width="0.68" opacity="0.45"/>
<line x1="744.5" y1="141.3" x2="775.1" y2="137.5" stroke="#8a8a8a" stroke-width="0.87" opacity="0.45"/>
<line x1="679.2" y1="148.6" x2="733.3" y2="139.1" stroke="#cccccc" stroke-width="0.79" opacity="0.45"/>
<line x1="625.5" y1="156.7" x2="647.8" y2="154.0" stroke="#808080" stroke-width="1.02" opacity="0.45"/>
<line x1="649.1" y1="154.6" x2="698.3" y2="142.4" stroke="#cccccc" stroke-width="1.00" opacity="0.45"/>
<line x1="640.5" y1="155.3" x2="687.8" y2="143.5" stroke="#d6d6d6" stroke-width="1.15" opacity="0.45"/>
<line x1="643.2" y1="139.7" x2="668.5" y2="133.4" stroke="#d6d6d6" stroke-width="1.01" opacity="0.45"/>
<line x1="777.0" y1="139.5" x2="799.6" y2="135.5" stroke="#808080" stroke-width="1.10" opacity="0.45"/>
<line x1="758.9" y1="158.0" x2="772.1" y2="160.8" stroke="#c0c0c0" stroke-width="1.13" opacity="0.45"/>
<line x1="643.4" y1="146.0" x2="679.8" y2="139.6" stroke="#d6d6d6" stroke-width="0.90" opacity="0.45"/>
<line x1="657.7" y1="151.7" x2="682.2" y2="141.8" stroke="#d6d6d6" stroke-width="1.20" opacity="0.45"/>
<line x1="699.3" y1="151.3" x2="718.3" y2="147.9" stroke="#cccccc" stroke-width="0.54" opacity="0.45"/>
<line x1="596.1" y1="143.7" x2="635.9" y2="136.7" stroke="#8a8a8a" stroke-width="0.53" opacity="0.45"/>
<line x1="683.1" y1="146.0" x2="736.4" y2="132.7" stroke="#8a8a8a" stroke-width="0.71" opacity="0.45"/>
<line x1="784.4" y1="157.2" x2="803.1" y2="153.9" stroke="#c0c0c0" stroke-width="0.81" opacity="0.45"/>
<line x1="683.4" y1="145.1" x2="711.5" y2="155.4" stroke="#808080" stroke-width="1.08" opacity="0.45"/>
<line x1="684.7" y1="139.9" x2="705.8" y2="136.2" stroke="#8a8a8a" stroke-width="0.65" opacity="0.45"/>
<line x1="631.3" y1="163.4" x2="647.2" y2="159.4" stroke="#d6d6d6" stroke-width="0.90" opacity="0.45"/>
<line x1="783.1" y1="150.3" x2="830.6" y2="167.6" stroke="#cccccc" stroke-width="0.85" opacity="0.45"/>
<line x1="603.6" y1="144.9" x2="652.2" y2="136.3" stroke="#d6d6d6" stroke-width="0.71" opacity="0.45"/>
<line x1="679.2" y1="164.2" x2="703.2" y2="167.6" stroke="#8a8a8a" stroke-width="0.65" opacity="0.45"/>
<line x1="745.3" y1="161.4" x2="770.3" y2="164.9" stroke="#808080" stroke-width="0.55" opacity="0.45"/>
<line x1="779.2" y1="165.9" x2="818.1" y2="156.2" stroke="#808080" stroke-width="1.13" opacity="0.45"/>
<line x1="610.5" y1="166.1" x2="649.4" y2="156.4" stroke="#c0c0c0" stroke-width="0.98" opacity="0.45"/>
<line x1="677.9" y1="152.2" x2="705.8" y2="156.1" stroke="#c0c0c0" stroke-width="1.06" opacity="0.45"/>
<line x1="627.2" y1="143.4" x2="664.4" y2="138.8" stroke="#cccccc" stroke-width="0.78" opacity="0.45"/>
<line x1="739.0" y1="149.7" x2="758.4" y2="144.8" stroke="#c0c0c0" stroke-width="0.61" opacity="0.45"/>
<line x1="706.7" y1="161.9" x2="739.4" y2="148.7" stroke="#808080" stroke-width="1.14" opacity="0.45"/>
<line x1="672.9" y1="141.2" x2="713.0" y2="131.2" stroke="#808080" stroke-width="0.89" opacity="0.45"/>
<line x1="636.4" y1="160.7" x2="647.9" y2="157.8" stroke="#8a8a8a" stroke-width="1.13" opacity="0.45"/>
<line x1="644.4" y1="148.7" x2="657.5" y2="151.5" stroke="#808080" stroke-width="0.77" opacity="0.45"/>
<line x1="742.5" y1="147.7" x2="762.8" y2="150.6" stroke="#808080" stroke-width="0.57" opacity="0.45"/>
<line x1="607.9" y1="156.4" x2="656.6" y2="166.7" stroke="#808080" stroke-width="0.79" opacity="0.45"/>
<line x1="727.2" y1="151.4" x2="765.0" y2="144.8" stroke="#d6d6d6" stroke-width="1.15" opacity="0.45"/>
<line x1="680.7" y1="142.3" x2="715.6" y2="138.0" stroke="#c0c0c0" stroke-width="0.62" opacity="0.45"/>
<line x1="614.9" y1="152.8" x2="639.5" y2="158.1" stroke="#cccccc" stroke-width="1.00" opacity="0.45"/>
<line x1="586.1" y1="147.7" x2="620.3" y2="152.5" stroke="#8a8a8a" stroke-width="0.84" opacity="0.45"/>
<line x1="600.1" y1="145.9" x2="647.9" y2="140.0" stroke="#c0c0c0" stroke-width="1.04" opacity="0.45"/>
</g>
<circle cx="624.0" cy="124.6" r="3.3" fill="url(#gLi2)"/>
<circle cx="653.9" cy="124.6" r="3.3" fill="url(#gLi2)"/>
<circle cx="683.8" cy="124.6" r="3.3" fill="url(#gLi2)"/>
<circle cx="713.7" cy="124.6" r="3.3" fill="url(#gLi2)"/>
<circle cx="743.6" cy="124.6" r="3.3" fill="url(#gLi2)"/>
<circle cx="594.1" cy="126.4" r="2.4" fill="#2bb896"/>
<circle cx="639.0" cy="126.4" r="2.6" fill="#2fc6a0"/>
<circle cx="624.0" cy="126.4" r="2.4" fill="#2bb896"/>
<circle cx="668.9" cy="126.4" r="2.6" fill="#2fc6a0"/>
<circle cx="653.9" cy="126.4" r="2.4" fill="#2bb896"/>
<circle cx="698.8" cy="126.4" r="2.6" fill="#2fc6a0"/>
<circle cx="683.8" cy="126.4" r="2.4" fill="#2bb896"/>
<circle cx="728.7" cy="126.4" r="2.6" fill="#2fc6a0"/>
<circle cx="713.8" cy="126.4" r="2.4" fill="#2bb896"/>
<circle cx="758.6" cy="126.4" r="2.6" fill="#2fc6a0"/>
<circle cx="743.6" cy="126.4" r="2.4" fill="#2bb896"/>
<circle cx="773.6" cy="126.4" r="2.4" fill="#2bb896"/>
<rect x="592.2" y="167.3" width="190" height="23.1" fill="url(#subs)"/>
<path d="M605.7,51 H612.5 V113.5 L616.6,111.5 L609.1,128.5 L601.6,111.5 L605.7,113.5 Z" fill="none" stroke="#f08088" stroke-width="3" opacity="0.55" filter="url(#blur1)"/>
<path d="M605.7,51 H612.5 V113.5 L616.6,111.5 L609.1,128.5 L601.6,111.5 L605.7,113.5 Z" fill="#8b8a90" stroke="#d9606a" stroke-width="1.2" stroke-linejoin="round"/>
<path d="M237.2,117.5 H277.9 V111.4 L295.6,121 L277.9,130.6 V124.5 H237.2 Z" fill="url(#barrow)"/>
<path d="M508.7,119.1 H549.8 V113.0 L567,122.6 L549.8,132.2 V126.1 H508.7 Z" fill="url(#barrow)"/>
<text x="223.4" y="106.9" font-size="14.7" text-anchor="start" fill="#111" font-weight="normal" textLength="79.8" lengthAdjust="spacingAndGlyphs" >Intercalation</text>
<text x="502.3" y="107.6" font-size="14.7" text-anchor="start" fill="#111" font-weight="normal" textLength="68.7" lengthAdjust="spacingAndGlyphs" >Deposition</text>
<text x="6.8" y="52.3" font-size="19" text-anchor="start" fill="#111" font-weight="bold" >a</text>
<path d="M29.5,238.2 C32,230 45,218.5 58.4,215.2 C53,224.5 39,235.5 29.5,238.2 Z" fill="#ebebe0"/>
<text x="66" y="229.6" font-size="14.3" text-anchor="start" fill="#111" font-weight="normal" textLength="47.3" lengthAdjust="spacingAndGlyphs" >Solvent</text>
<circle cx="135.1" cy="225" r="5.3" fill="url(#gLi2)"/>
<text x="148.4" y="229.6" font-size="14.3" text-anchor="start" fill="#111" font-weight="normal" >Li</text>
<circle cx="183.4" cy="225" r="8" fill="url(#gMA)"/>
<text x="205.2" y="229.6" font-size="14.3" text-anchor="start" fill="#111" font-weight="normal" >MA</text>
<circle cx="253.6" cy="225" r="8.1" fill="url(#gSn)"/>
<text x="272" y="229.6" font-size="14.3" text-anchor="start" fill="#111" font-weight="normal" >Sn</text>
<circle cx="316.2" cy="225" r="8.1" fill="url(#gCl)"/>
<text x="340" y="229.6" font-size="14.3" text-anchor="start" fill="#111" font-weight="normal" >Cl</text>
<rect x="375" y="218.4" width="59" height="13.5" fill="url(#gradbar)"/>
<text x="442.7" y="229.6" font-size="14.3" fill="#111" textLength="174.8" lengthAdjust="spacingAndGlyphs">Gradient layer (LiCl, Li<tspan font-size="8.6" dy="4.5">x</tspan><tspan dy="-4.5">M</tspan><tspan font-size="8.6" dy="4.5">y</tspan><tspan dy="-4.5">)</tspan></text>
<rect x="647.4" y="218" width="30.8" height="12.8" fill="#8b8b8b"/>
<text x="687" y="229.6" font-size="14.3" text-anchor="start" fill="#111" font-weight="normal" textLength="79.6" lengthAdjust="spacingAndGlyphs" >Deposited Li</text>
<text x="7.7" y="274.7" font-size="18.5" text-anchor="start" fill="#111" font-weight="bold" >b</text>
<path d="M117.6,558.4 L129.6,552.9 L130.1,552.3 L130.9,551.7 L131.7,551.1 L132.7,550.3 L133.9,549.6 L135.1,548.7 L136.4,547.8 L137.9,546.8 L139.4,545.8 L140.9,544.7 L142.6,543.5 L144.3,542.2 L146.1,540.8 L147.9,539.4 L149.8,537.8 L151.7,536.2 L153.6,534.4 L155.6,532.6 L157.5,530.7 L159.5,528.6 L161.5,526.5 L163.5,524.2 L165.5,521.9 L167.5,519.4 L169.5,516.8 L171.5,514.2 L173.5,511.4 L175.4,508.5 L177.3,505.5 L179.3,502.4 L181.1,499.3 L183.0,496.0 L184.8,492.7 L186.7,489.2 L188.4,485.7 L190.2,482.1 L191.9,478.5 L193.6,474.8 L195.3,471.1 L196.9,467.3 L198.6,463.5 L200.2,459.7 L201.7,455.9 L203.3,452.1 L204.8,448.3 L206.3,444.5 L207.8,440.8 L209.3,437.1 L210.8,433.5 L212.3,429.9 L213.8,426.5 L215.3,423.1 L216.8,419.9 L218.3,416.8 L219.8,413.8 L221.4,411.0 L223.0,408.3 L224.6,405.8 L226.3,403.5 L228.0,401.4 L229.7,399.5 L231.6,397.7 L233.5,396.2 L235.5,395.0 L237.5,393.9 L239.7,393.1 L241.9,392.5 L244.3,392.1 L246.8,392.0 L249.1,392.1 L251.3,392.5 L253.5,393.1 L255.6,393.9 L257.6,395.0 L259.6,396.2 L261.6,397.7 L263.5,399.5 L265.4,401.4 L267.3,403.5 L269.1,405.8 L270.9,408.3 L272.7,411.0 L274.4,413.8 L276.2,416.8 L277.9,419.9 L279.6,423.1 L281.3,426.5 L283.0,429.9 L284.7,433.5 L286.4,437.1 L288.0,440.8 L289.7,444.5 L291.4,448.3 L293.0,452.1 L294.7,455.9 L296.4,459.7 L298.0,463.5 L299.7,467.3 L301.4,471.1 L303.1,474.8 L304.8,478.5 L306.5,482.1 L308.2,485.7 L309.9,489.2 L311.6,492.7 L313.3,496.0 L315.0,499.3 L316.8,502.4 L318.5,505.5 L320.2,508.5 L322.0,511.4 L323.7,514.2 L325.5,516.8 L327.2,519.4 L328.9,521.9 L330.7,524.2 L332.4,526.5 L334.1,528.6 L335.8,530.7 L337.5,532.6 L339.2,534.4 L340.8,536.2 L342.5,537.8 L344.1,539.4 L345.7,540.8 L347.2,542.2 L348.8,543.5 L350.3,544.7 L351.7,545.8 L353.2,546.8 L354.5,547.8 L355.9,548.7 L357.1,549.6 L358.4,550.3 L359.5,551.1 L360.6,551.7 L361.7,552.3 L362.6,552.9 L375.0,558.4 Z" fill="url(#peak)"/>
<circle cx="117.6" cy="558.2" r="7" fill="#ee7e1c"/>
<circle cx="246.5" cy="389.6" r="7" fill="#ee7e1c"/>
<circle cx="375" cy="559" r="7" fill="#ee7e1c"/>
<rect x="74.6" y="271.7" width="343.20000000000005" height="319.09999999999997" fill="none" stroke="#4a4a4a" stroke-width="1"/>
<line x1="69.6" y1="559.2" x2="74.6" y2="559.2" stroke="#333" stroke-width="1"/>
<text x="65.6" y="564.4" font-size="14.7" text-anchor="end" fill="#111" font-weight="normal" >0.0</text>
<line x1="72.0" y1="540.4" x2="74.6" y2="540.4" stroke="#333" stroke-width="1"/>
<line x1="69.6" y1="521.6" x2="74.6" y2="521.6" stroke="#333" stroke-width="1"/>
<text x="65.6" y="526.8" font-size="14.7" text-anchor="end" fill="#111" font-weight="normal" >0.1</text>
<line x1="72.0" y1="502.8" x2="74.6" y2="502.8" stroke="#333" stroke-width="1"/>
<line x1="69.6" y1="484.0" x2="74.6" y2="484.0" stroke="#333" stroke-width="1"/>
<text x="65.6" y="489.2" font-size="14.7" text-anchor="end" fill="#111" font-weight="normal" >0.2</text>
<line x1="72.0" y1="465.2" x2="74.6" y2="465.2" stroke="#333" stroke-width="1"/>
<line x1="69.6" y1="446.3" x2="74.6" y2="446.3" stroke="#333" stroke-width="1"/>
<text x="65.6" y="451.5" font-size="14.7" text-anchor="end" fill="#111" font-weight="normal" >0.3</text>
<line x1="72.0" y1="427.5" x2="74.6" y2="427.5" stroke="#333" stroke-width="1"/>
<line x1="69.6" y1="408.7" x2="74.6" y2="408.7" stroke="#333" stroke-width="1"/>
<text x="65.6" y="413.9" font-size="14.7" text-anchor="end" fill="#111" font-weight="normal" >0.4</text>
<line x1="72.0" y1="389.9" x2="74.6" y2="389.9" stroke="#333" stroke-width="1"/>
<line x1="69.6" y1="371.1" x2="74.6" y2="371.1" stroke="#333" stroke-width="1"/>
<text x="65.6" y="376.3" font-size="14.7" text-anchor="end" fill="#111" font-weight="normal" >0.5</text>
<text transform="translate(36.9 430.4) rotate(-90)" font-size="14.9" text-anchor="middle" fill="#111" textLength="80" lengthAdjust="spacingAndGlyphs">Energy (eV)</text>
<line x1="117.2" y1="454" x2="117.2" y2="545" stroke="#111" stroke-width="1.1"/>
<circle cx="117.2" cy="453.8" r="2.8" fill="#050505"/>
<line x1="375.3" y1="454" x2="375.3" y2="545" stroke="#111" stroke-width="1.1"/>
<circle cx="375.3" cy="453.8" r="2.8" fill="#050505"/>
<text x="93" y="583.4" font-size="14.3" text-anchor="start" fill="#111" font-weight="normal" textLength="33.2" lengthAdjust="spacingAndGlyphs" >Initial</text>
<text x="368.5" y="584.2" font-size="14.7" text-anchor="start" fill="#111" font-weight="normal" textLength="26" lengthAdjust="spacingAndGlyphs" >End</text>
<line x1="133.6" y1="579" x2="352" y2="579" stroke="#222" stroke-width="1"/>
<path d="M360.6,579 L346,576.3 L346,581.7 Z" fill="#111"/>
<text x="193.4" y="610.8" font-size="14.7" text-anchor="start" fill="#111" font-weight="normal" textLength="133.6" lengthAdjust="spacingAndGlyphs" >Li-ion migration path</text>
<circle cx="74.6" cy="632" r="7" fill="url(#gR)"/>
<text x="93.6" y="637" font-size="14.7" text-anchor="start" fill="#111" font-weight="normal" >Li</text>
<circle cx="136" cy="632" r="5.6" fill="url(#gC)"/>
<text x="157" y="637" font-size="14.7" text-anchor="start" fill="#111" font-weight="normal" >C</text>
<circle cx="196.5" cy="632" r="5.6" fill="url(#gB)"/>
<text x="219.4" y="637" font-size="14.7" text-anchor="start" fill="#111" font-weight="normal" >N</text>
<circle cx="261.6" cy="632" r="5.6" fill="url(#gH)" stroke="#8c8c8c" stroke-width="0.5"/>
<text x="279.4" y="637" font-size="14.7" text-anchor="start" fill="#111" font-weight="normal" >H</text>
<circle cx="323" cy="632" r="7" fill="url(#gG)"/>
<text x="341" y="637" font-size="14.7" text-anchor="start" fill="#111" font-weight="normal" >Sn</text>
<circle cx="389" cy="632" r="5.6" fill="url(#gY)"/>
<text x="409" y="637" font-size="14.7" text-anchor="start" fill="#111" font-weight="normal" >Cl</text>
<line x1="91.0" y1="338.3" x2="92.2" y2="440.6" stroke="#666" stroke-width="0.85" stroke-dasharray="2.2 1.8"/>
<line x1="93.0" y1="338.3" x2="94.4" y2="440.6" stroke="#666" stroke-width="0.85" stroke-dasharray="2.2 1.8"/>
<line x1="142.7" y1="343" x2="144.5" y2="433" stroke="#666" stroke-width="0.85" stroke-dasharray="2.2 1.8"/>
<line x1="92" y1="384.4" x2="142" y2="384.4" stroke="#666" stroke-width="0.85" stroke-dasharray="2.2 1.8"/>
<line x1="93" y1="394.5" x2="140" y2="394.5" stroke="#666" stroke-width="0.85" stroke-dasharray="2.2 1.8"/>
<circle cx="110.4" cy="348.4" r="2.7" fill="url(#gH)" stroke="#8c8c8c" stroke-width="0.5"/>
<circle cx="123.3" cy="353" r="2.7" fill="url(#gH)" stroke="#8c8c8c" stroke-width="0.5"/>
<circle cx="108.6" cy="359.5" r="2.7" fill="url(#gH)" stroke="#8c8c8c" stroke-width="0.5"/>
<circle cx="114.7" cy="355.8" r="3.5" fill="url(#gB)"/>
<circle cx="122.8" cy="360.4" r="2.7" fill="url(#gH)" stroke="#8c8c8c" stroke-width="0.5"/>
<circle cx="117.8" cy="365.4" r="4.0" fill="url(#gC)"/>
<circle cx="109.1" cy="369.6" r="2.7" fill="url(#gH)" stroke="#8c8c8c" stroke-width="0.5"/>
<circle cx="122.8" cy="373.3" r="2.7" fill="url(#gH)" stroke="#8c8c8c" stroke-width="0.5"/>
<circle cx="141.8" cy="342.9" r="4.0" fill="url(#gY)"/>
<circle cx="139.9" cy="365.2" r="4.1" fill="url(#gR)"/>
<circle cx="140.8" cy="359.5" r="4.0" fill="url(#gY)"/>
<circle cx="143.6" cy="394.5" r="5.3" fill="url(#gG)"/>
<circle cx="143" cy="435" r="5.3" fill="url(#gG)"/>
<circle cx="92" cy="384.4" r="4.0" fill="url(#gY)"/>
<circle cx="92" cy="410.2" r="4.0" fill="url(#gY)"/>
<circle cx="117.4" cy="390.8" r="4.0" fill="url(#gY)"/>
<circle cx="117.8" cy="399.1" r="2.7" fill="url(#gH)" stroke="#8c8c8c" stroke-width="0.5"/>
<circle cx="109.5" cy="407" r="2.7" fill="url(#gH)" stroke="#8c8c8c" stroke-width="0.5"/>
<circle cx="126.5" cy="406.5" r="2.7" fill="url(#gH)" stroke="#8c8c8c" stroke-width="0.5"/>
<circle cx="117.8" cy="406.5" r="3.5" fill="url(#gB)"/>
<circle cx="110.4" cy="419.4" r="2.7" fill="url(#gH)" stroke="#8c8c8c" stroke-width="0.5"/>
<circle cx="127.6" cy="419" r="2.7" fill="url(#gH)" stroke="#8c8c8c" stroke-width="0.5"/>
<circle cx="118.2" cy="419.4" r="4.0" fill="url(#gC)"/>
<circle cx="118.2" cy="426.8" r="2.7" fill="url(#gH)" stroke="#8c8c8c" stroke-width="0.5"/>
<circle cx="116.5" cy="434.7" r="4.0" fill="url(#gY)"/>
<path d="M134.6,370.6 Q131.5,380 135.2,386.6" fill="none" stroke="#d01818" stroke-width="1.3"/>
<path d="M135.8,387.6 L131.6,384.5 L135.3,382.4 Z" fill="#d01818"/>
<line x1="221.4" y1="276.5" x2="221.4" y2="373" stroke="#666" stroke-width="0.85" stroke-dasharray="2.2 1.8"/>
<line x1="223.8" y1="276.5" x2="223.8" y2="373" stroke="#666" stroke-width="0.85" stroke-dasharray="2.2 1.8"/>
<line x1="272.7" y1="285.7" x2="272.7" y2="378.8" stroke="#666" stroke-width="0.85" stroke-dasharray="2.2 1.8"/>
<line x1="274.9" y1="285.7" x2="274.9" y2="378.8" stroke="#666" stroke-width="0.85" stroke-dasharray="2.2 1.8"/>
<line x1="225.7" y1="322" x2="272.7" y2="322" stroke="#666" stroke-width="0.85" stroke-dasharray="2.2 1.8"/>
<line x1="224" y1="331.8" x2="274.5" y2="331.8" stroke="#666" stroke-width="0.85" stroke-dasharray="2.2 1.8"/>
<line x1="219.5" y1="276.3" x2="225.5" y2="276.3" stroke="#555" stroke-width="1"/>
<line x1="271.5" y1="379.7" x2="276.5" y2="379.7" stroke="#3a9a4a" stroke-width="1"/>
<line x1="246" y1="379" x2="249.6" y2="379" stroke="#a8c040" stroke-width="1"/>
<circle cx="247.8" cy="279.6" r="4.0" fill="url(#gY)"/>
<circle cx="247.8" cy="283.5" r="2.7" fill="url(#gH)" stroke="#8c8c8c" stroke-width="0.5"/>
<circle cx="274" cy="281" r="5.3" fill="url(#gG)"/>
<circle cx="239.9" cy="291.2" r="2.7" fill="url(#gH)" stroke="#8c8c8c" stroke-width="0.5"/>
<circle cx="257" cy="291.2" r="2.7" fill="url(#gH)" stroke="#8c8c8c" stroke-width="0.5"/>
<circle cx="247.8" cy="291.2" r="3.5" fill="url(#gB)"/>
<circle cx="238.9" cy="302.3" r="2.7" fill="url(#gH)" stroke="#8c8c8c" stroke-width="0.5"/>
<circle cx="256.1" cy="302.3" r="2.7" fill="url(#gH)" stroke="#8c8c8c" stroke-width="0.5"/>
<circle cx="247.4" cy="302.8" r="4.0" fill="url(#gC)"/>
<circle cx="247.8" cy="310.2" r="2.7" fill="url(#gH)" stroke="#8c8c8c" stroke-width="0.5"/>
<circle cx="222.9" cy="299.9" r="4.0" fill="url(#gY)"/>
<circle cx="225.1" cy="324.7" r="5.3" fill="url(#gG)"/>
<circle cx="250.9" cy="320.7" r="4.0" fill="url(#gY)"/>
<circle cx="258.3" cy="320.7" r="4.1" fill="url(#gR)"/>
<circle cx="269" cy="349.3" r="4.0" fill="url(#gY)"/>
<circle cx="222.9" cy="375.6" r="4.0" fill="url(#gY)"/>
<circle cx="238.6" cy="342.4" r="2.7" fill="url(#gH)" stroke="#8c8c8c" stroke-width="0.5"/>
<circle cx="244.1" cy="350.6" r="3.5" fill="url(#gB)"/>
<circle cx="253.6" cy="348.6" r="2.7" fill="url(#gH)" stroke="#8c8c8c" stroke-width="0.5"/>
<circle cx="252" cy="350.4" r="2.7" fill="url(#gH)" stroke="#8c8c8c" stroke-width="0.5"/>
<circle cx="247.8" cy="355.7" r="4.0" fill="url(#gC)"/>
<circle cx="238.6" cy="357.6" r="2.7" fill="url(#gH)" stroke="#8c8c8c" stroke-width="0.5"/>
<circle cx="253.3" cy="364.9" r="2.7" fill="url(#gH)" stroke="#8c8c8c" stroke-width="0.5"/>
<path d="M256.3,328 Q254.5,337 259.6,343" fill="none" stroke="#d01818" stroke-width="1.3"/>
<path d="M260.4,343.9 L255.6,341.6 L258.8,338.9 Z" fill="#d01818"/>
<line x1="348.3" y1="338.3" x2="348.3" y2="433" stroke="#666" stroke-width="1.1" stroke-dasharray="2.2 1.8"/>
<line x1="399.9" y1="339" x2="399.9" y2="441.5" stroke="#666" stroke-width="1.1" stroke-dasharray="2.2 1.8"/>
<line x1="350" y1="386.8" x2="399.5" y2="386.8" stroke="#666" stroke-width="0.85" stroke-dasharray="2.2 1.8"/>
<line x1="348.5" y1="396" x2="397.5" y2="396" stroke="#666" stroke-width="0.85" stroke-dasharray="2.2 1.8"/>
<line x1="346" y1="338.3" x2="351" y2="338.3" stroke="#555" stroke-width="1"/>
<line x1="371.8" y1="441" x2="375.6" y2="441" stroke="#b8c850" stroke-width="1"/>
<circle cx="374.1" cy="342.5" r="4.0" fill="url(#gY)"/>
<circle cx="374.1" cy="349.4" r="2.7" fill="url(#gH)" stroke="#8c8c8c" stroke-width="0.5"/>
<circle cx="399.9" cy="345.7" r="5.3" fill="url(#gG)"/>
<circle cx="366.3" cy="358.6" r="2.7" fill="url(#gH)" stroke="#8c8c8c" stroke-width="0.5"/>
<circle cx="382.6" cy="358.6" r="2.7" fill="url(#gH)" stroke="#8c8c8c" stroke-width="0.5"/>
<circle cx="374.1" cy="358.6" r="3.5" fill="url(#gB)"/>
<circle cx="399.5" cy="361.3" r="4.0" fill="url(#gY)"/>
<circle cx="365.4" cy="369.3" r="2.7" fill="url(#gH)" stroke="#8c8c8c" stroke-width="0.5"/>
<circle cx="382.6" cy="369.3" r="2.7" fill="url(#gH)" stroke="#8c8c8c" stroke-width="0.5"/>
<circle cx="373.7" cy="369.3" r="4.0" fill="url(#gC)"/>
<circle cx="374.1" cy="378.3" r="2.7" fill="url(#gH)" stroke="#8c8c8c" stroke-width="0.5"/>
<circle cx="374.1" cy="384.4" r="4.0" fill="url(#gY)"/>
<circle cx="348.5" cy="385.7" r="5.3" fill="url(#gG)"/>
<circle cx="399.5" cy="394.9" r="4.0" fill="url(#gY)"/>
<circle cx="366.7" cy="402.4" r="2.7" fill="url(#gH)" stroke="#8c8c8c" stroke-width="0.5"/>
<circle cx="372.2" cy="410.2" r="3.5" fill="url(#gB)"/>
<circle cx="380.2" cy="407.4" r="2.7" fill="url(#gH)" stroke="#8c8c8c" stroke-width="0.5"/>
<circle cx="379.2" cy="412" r="2.7" fill="url(#gH)" stroke="#8c8c8c" stroke-width="0.5"/>
<circle cx="367.3" cy="415.7" r="2.7" fill="url(#gH)" stroke="#8c8c8c" stroke-width="0.5"/>
<circle cx="374.6" cy="418.5" r="4.0" fill="url(#gC)"/>
<circle cx="366.3" cy="421.6" r="2.7" fill="url(#gH)" stroke="#8c8c8c" stroke-width="0.5"/>
<circle cx="380.7" cy="426.2" r="2.7" fill="url(#gH)" stroke="#8c8c8c" stroke-width="0.5"/>
<circle cx="397.3" cy="418.6" r="4.1" fill="url(#gR)"/>
<circle cx="397.7" cy="413" r="4.0" fill="url(#gY)"/>
<circle cx="349.7" cy="436.9" r="4.0" fill="url(#gY)"/>
<path d="M387,398.2 Q385.5,408 389.6,413.2" fill="none" stroke="#d01818" stroke-width="1.3"/>
<path d="M390.3,414.1 L385.7,411.6 L389.0,409.0 Z" fill="#d01818"/>
<text x="465.5" y="274.4" font-size="18.5" text-anchor="start" fill="#111" font-weight="bold" >c</text>
<rect x="515.3" y="274.4" width="239.9000000000001" height="312.30000000000007" fill="none" stroke="#4a4a4a" stroke-width="1"/>
<line x1="510.29999999999995" y1="294.5" x2="515.3" y2="294.5" stroke="#333" stroke-width="1"/>
<text x="503.3" y="299.7" font-size="14.7" text-anchor="end" fill="#111" font-weight="normal" >1.5</text>
<line x1="510.29999999999995" y1="333.4" x2="515.3" y2="333.4" stroke="#333" stroke-width="1"/>
<text x="503.3" y="338.6" font-size="14.7" text-anchor="end" fill="#111" font-weight="normal" >1.0</text>
<line x1="510.29999999999995" y1="372.3" x2="515.3" y2="372.3" stroke="#333" stroke-width="1"/>
<text x="503.3" y="377.5" font-size="14.7" text-anchor="end" fill="#111" font-weight="normal" >0.5</text>
<line x1="510.29999999999995" y1="411.2" x2="515.3" y2="411.2" stroke="#333" stroke-width="1"/>
<text x="503.3" y="416.4" font-size="14.7" text-anchor="end" fill="#111" font-weight="normal" >0.0</text>
<line x1="510.29999999999995" y1="450.1" x2="515.3" y2="450.1" stroke="#333" stroke-width="1"/>
<text x="503.3" y="455.3" font-size="14.7" text-anchor="end" fill="#111" font-weight="normal" >-0.5</text>
<line x1="510.29999999999995" y1="489.0" x2="515.3" y2="489.0" stroke="#333" stroke-width="1"/>
<text x="503.3" y="494.2" font-size="14.7" text-anchor="end" fill="#111" font-weight="normal" >-1.0</text>
<line x1="510.29999999999995" y1="527.9" x2="515.3" y2="527.9" stroke="#333" stroke-width="1"/>
<text x="503.3" y="533.1" font-size="14.7" text-anchor="end" fill="#111" font-weight="normal" >-1.5</text>
<line x1="510.29999999999995" y1="566.8" x2="515.3" y2="566.8" stroke="#333" stroke-width="1"/>
<text x="503.3" y="572.0" font-size="14.7" text-anchor="end" fill="#111" font-weight="normal" >-2.0</text>
<line x1="512.6999999999999" y1="275.0" x2="515.3" y2="275.0" stroke="#333" stroke-width="1"/>
<line x1="512.6999999999999" y1="313.9" x2="515.3" y2="313.9" stroke="#333" stroke-width="1"/>
<line x1="512.6999999999999" y1="352.9" x2="515.3" y2="352.9" stroke="#333" stroke-width="1"/>
<line x1="512.6999999999999" y1="391.8" x2="515.3" y2="391.8" stroke="#333" stroke-width="1"/>
<line x1="512.6999999999999" y1="430.6" x2="515.3" y2="430.6" stroke="#333" stroke-width="1"/>
<line x1="512.6999999999999" y1="469.5" x2="515.3" y2="469.5" stroke="#333" stroke-width="1"/>
<line x1="512.6999999999999" y1="508.4" x2="515.3" y2="508.4" stroke="#333" stroke-width="1"/>
<line x1="512.6999999999999" y1="547.4" x2="515.3" y2="547.4" stroke="#333" stroke-width="1"/>
<line x1="515.4" y1="586.7" x2="515.4" y2="591.7" stroke="#333" stroke-width="1"/>
<text x="517.4" y="607.6" font-size="14.7" text-anchor="middle" fill="#111" font-weight="normal" >-0.5</text>
<line x1="532.6" y1="586.7" x2="532.6" y2="589.3000000000001" stroke="#333" stroke-width="1"/>
<line x1="549.7" y1="586.7" x2="549.7" y2="591.7" stroke="#333" stroke-width="1"/>
<text x="551.7" y="607.6" font-size="14.7" text-anchor="middle" fill="#111" font-weight="normal" >0.0</text>
<line x1="566.9" y1="586.7" x2="566.9" y2="589.3000000000001" stroke="#333" stroke-width="1"/>
<line x1="584.0" y1="586.7" x2="584.0" y2="591.7" stroke="#333" stroke-width="1"/>
<text x="586.0" y="607.6" font-size="14.7" text-anchor="middle" fill="#111" font-weight="normal" >0.5</text>
<line x1="601.2" y1="586.7" x2="601.2" y2="589.3000000000001" stroke="#333" stroke-width="1"/>
<line x1="618.3" y1="586.7" x2="618.3" y2="591.7" stroke="#333" stroke-width="1"/>
<text x="620.3" y="607.6" font-size="14.7" text-anchor="middle" fill="#111" font-weight="normal" >1.0</text>
<line x1="635.5" y1="586.7" x2="635.5" y2="589.3000000000001" stroke="#333" stroke-width="1"/>
<line x1="652.6" y1="586.7" x2="652.6" y2="591.7" stroke="#333" stroke-width="1"/>
<text x="654.6" y="607.6" font-size="14.7" text-anchor="middle" fill="#111" font-weight="normal" >1.5</text>
<line x1="669.8" y1="586.7" x2="669.8" y2="589.3000000000001" stroke="#333" stroke-width="1"/>
<line x1="686.9" y1="586.7" x2="686.9" y2="591.7" stroke="#333" stroke-width="1"/>
<text x="688.9" y="607.6" font-size="14.7" text-anchor="middle" fill="#111" font-weight="normal" >2.0</text>
<line x1="704.1" y1="586.7" x2="704.1" y2="589.3000000000001" stroke="#333" stroke-width="1"/>
<line x1="721.2" y1="586.7" x2="721.2" y2="591.7" stroke="#333" stroke-width="1"/>
<text x="723.2" y="607.6" font-size="14.7" text-anchor="middle" fill="#111" font-weight="normal" >2.5</text>
<line x1="738.4" y1="586.7" x2="738.4" y2="589.3000000000001" stroke="#333" stroke-width="1"/>
<line x1="755.5" y1="586.7" x2="755.5" y2="591.7" stroke="#333" stroke-width="1"/>
<text x="757.5" y="607.6" font-size="14.7" text-anchor="middle" fill="#111" font-weight="normal" >3.0</text>
<text x="596.4" y="631.0" font-size="14.7" text-anchor="start" fill="#111" font-weight="normal" textLength="81.5" lengthAdjust="spacingAndGlyphs" >Potential (V)</text>
<text transform="translate(467.2 427) rotate(-90)" font-size="14.7" text-anchor="middle" fill="#111" textLength="116" lengthAdjust="spacingAndGlyphs">Current (mA cm<tspan font-size="9" dy="-5">-2</tspan><tspan dy="5">)</tspan></text>
<line x1="515.3" y1="297.5" x2="555.5" y2="297.5" stroke="#4579aa" stroke-width="1" stroke-dasharray="4 3"/>
<line x1="515.3" y1="305.5" x2="555.2" y2="305.5" stroke="#bc3844" stroke-width="1" stroke-dasharray="4 3"/>
<line x1="515.3" y1="371.0" x2="554.0" y2="371.0" stroke="#e6d480" stroke-width="1" stroke-dasharray="4 3"/>
<line x1="515.3" y1="463.2" x2="543.8" y2="463.2" stroke="#e6d480" stroke-width="1" stroke-dasharray="4 3"/>
<line x1="515.3" y1="560.4" x2="543.0" y2="560.4" stroke="#bc3844" stroke-width="1" stroke-dasharray="4 3"/>
<line x1="515.3" y1="573.2" x2="543.0" y2="573.2" stroke="#4579aa" stroke-width="1" stroke-dasharray="4 3"/>
<polyline points="558.0,410.3 600.0,409.6 686.0,409.4" fill="none" stroke="#b9a98c" stroke-width="1.6" stroke-linejoin="round" />
<polygon points="546,419.4 549.5,405 554,371 556.5,409 558,411.5 640,410.6 700,410.8 716.7,411.2 690,411.4 660,412.4 641,414.5 620,416.3 600,418 570,418.8" fill="#f4deA0" opacity="0.38"/>
<polyline points="716.7,411.2 690.0,411.4 660.0,412.4 641.0,414.5 620.0,416.3 600.0,418.0 570.0,418.8 546.2,419.4 544.6,430.0 544.2,463.2" fill="none" stroke="#e6b83c" stroke-width="1.1" stroke-linejoin="round" />
<polyline points="544.2,463.2 545.2,420.0 549.5,405.0 554.0,371.0 555.2,372.0 556.5,409.0 558.0,411.5 580.0,411.0 640.0,410.6 700.0,410.8" fill="none" stroke="#e6b83c" stroke-width="1.1" stroke-linejoin="round" />
<polyline points="546.0,417.0 552.0,416.6 600.0,416.0 640.0,415.2" fill="none" stroke="#ecc860" stroke-width="0.9" stroke-linejoin="round" />
<polyline points="741.4,411.6 706.0,411.6 703.5,416.0 701.2,424.5 699.6,420.0 698.4,417.0 693.0,419.1 686.6,414.8 673.7,415.4 664.0,417.6 656.5,420.2 648.0,427.0 641.5,433.0 636.0,436.6 631.8,437.8 626.0,436.0 621.0,432.2 611.8,424.5 606.0,423.2 601.0,423.0 587.2,423.0 585.6,425.0 584.9,427.6 583.4,434.5 580.3,432.2 576.5,433.8 575.0,444.0 573.6,460.0 572.6,468.3 571.4,462.0 568.8,447.6 566.5,441.0 564.2,436.8 560.0,435.0 556.5,434.1 550.4,434.1 548.0,436.8 546.6,446.0 544.6,480.0 543.0,573.2 543.0,560.0 544.6,490.0 547.7,440.0 552.0,371.0 555.5,297.5 556.3,330.0 557.2,390.0 558.0,411.5 565.7,409.2 575.0,404.6 581.0,403.8 582.6,395.0 583.8,383.8 585.0,392.0 586.5,398.4 589.0,403.0 591.0,404.6 592.8,400.0 594.1,396.1 595.4,400.0 596.4,403.0 601.0,407.6 611.8,407.3 621.0,406.1 635.0,407.6 660.0,408.6 700.0,410.4 741.4,411.6" fill="none" stroke="#4579aa" stroke-width="1.0" stroke-linejoin="round" />
<polyline points="706.0,411.6 702.7,415.9 697.4,420.2 693.0,418.6 688.8,417.0 673.7,414.8 656.5,417.0 641.5,416.3 620.0,416.6 600.0,417.2 578.0,417.6 571.9,422.2 565.7,424.5 556.5,423.8 548.8,423.0 547.4,432.0 545.4,470.0 543.0,560.4 544.8,495.0 548.0,438.0 552.3,372.0 555.4,305.5 556.4,340.0 557.3,392.0 558.0,411.5 565.7,410.7 581.0,408.4 588.8,406.9 592.6,403.8 596.4,407.3 604.0,408.4 640.0,409.2 680.0,410.0 706.0,411.6" fill="none" stroke="#bc3844" stroke-width="1.0" stroke-linejoin="round" />
<text x="609.6" y="359.8" font-size="14.7" text-anchor="start" fill="#c0282c" font-weight="normal" textLength="129" lengthAdjust="spacingAndGlyphs" >Li ions’ intercalation</text>
<text x="609.6" y="377.4" font-size="14.7" fill="#c0282c" textLength="129" lengthAdjust="spacingAndGlyphs">into MASnCl<tspan font-size="10.4">3</tspan> lattice</text>
<text x="609.6" y="467.6" font-size="14.7" text-anchor="start" fill="#3c6c9c" font-weight="normal" textLength="129" lengthAdjust="spacingAndGlyphs" >Li ions’ intercalation</text>
<text x="609.6" y="485.6" font-size="14.7" fill="#3c6c9c" textLength="129" lengthAdjust="spacingAndGlyphs">into MAPbCl<tspan font-size="10.4">3</tspan> lattice</text>
<line x1="657" y1="383.6" x2="656.6" y2="409" stroke="#c0282c" stroke-width="1.1"/>
<path d="M656.5,415 L653.8,407.5 L659.3,407.5 Z" fill="#c0282c"/>
<path d="M654.4,455.6 Q652,449 641,441" fill="none" stroke="#2f5f8f" stroke-width="1.1"/>
<path d="M637.2,437.8 L644.6,440.2 L640.6,445 Z" fill="#2f5f8f"/>
<line x1="623.5" y1="540.8" x2="649" y2="540.8" stroke="#bc3844" stroke-width="1"/>
<text x="654.2" y="544.8" font-size="14.7" fill="#111" textLength="93.5" lengthAdjust="spacingAndGlyphs">With MASnCl<tspan font-size="10.4">3</tspan></text>
<line x1="623.5" y1="557.4" x2="649" y2="557.4" stroke="#4579aa" stroke-width="1"/>
<text x="654.2" y="561" font-size="14.7" fill="#111" textLength="93.5" lengthAdjust="spacingAndGlyphs">With MAPbCl<tspan font-size="10.4">3</tspan></text>
<line x1="623.5" y1="573.6" x2="649" y2="573.6" stroke="#e6b83c" stroke-width="1"/>
<text x="654.2" y="577.8" font-size="14.7" fill="#111" textLength="98.9" lengthAdjust="spacingAndGlyphs">Bare Substrate</text>
</svg></body></html>
